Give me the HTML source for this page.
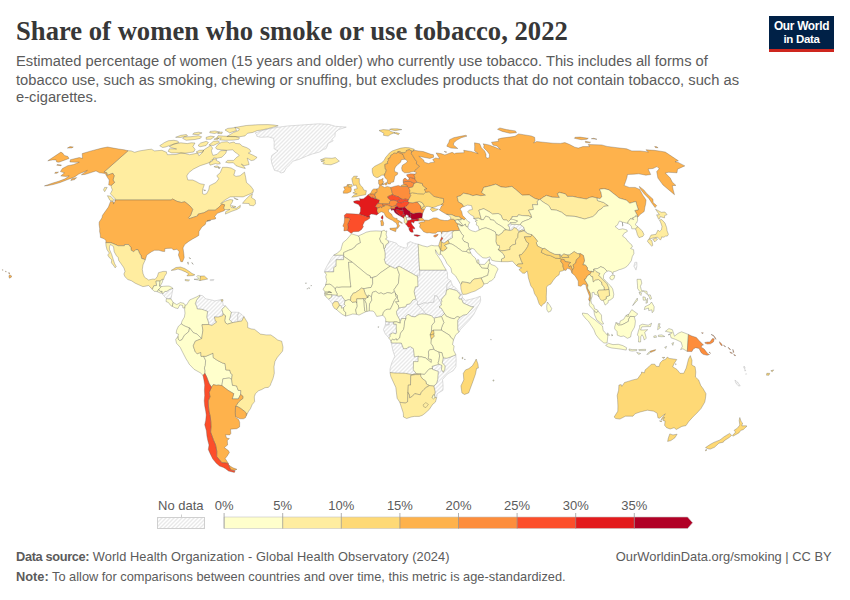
<!DOCTYPE html>
<html><head><meta charset="utf-8">
<style>
html,body{margin:0;padding:0;background:#fff;}
body{width:850px;height:600px;position:relative;overflow:hidden;font-family:"Liberation Sans",sans-serif;}
.t{position:absolute;white-space:nowrap;line-height:1;}
#title{left:16px;top:18.3px;font-family:"Liberation Serif",serif;font-weight:bold;font-size:26.65px;color:#373737;}
.sub{left:16px;font-size:14.72px;color:#5b5b5b;}
.ft{font-size:12.8px;color:#5b5b5b;}
.lg{font-size:13px;color:#5b5b5b;}
#logo{position:absolute;left:769px;top:16px;width:65px;height:33px;background:#002147;border-bottom:3px solid #ce261e;}
#logo span{position:absolute;left:0;width:65px;text-align:center;color:#fff;font-weight:bold;font-size:11.3px;line-height:1;letter-spacing:-0.3px;white-space:nowrap;}
</style></head><body>
<div class="t" id="title">Share of women who smoke or use tobacco, 2022</div>
<div class="t sub" id="s1" style="top:54.3px">Estimated percentage of women (15 years and older) who currently use tobacco. This includes all forms of</div>
<div class="t sub" id="s2" style="top:72.8px">tobacco use, such as smoking, chewing or snuffing, but excludes products that do not contain tobacco, such as</div>
<div class="t sub" id="s3" style="top:90.3px">e-cigarettes.</div>
<div id="logo"><span style="top:5.4px;font-size:11.9px" id="lg1">Our World</span><span style="top:17.6px;font-size:11.5px" id="lg2">in Data</span></div>

<svg id="map" width="850" height="600" style="position:absolute;left:0;top:0">
<defs>
<pattern id="hatch" width="4" height="4" patternUnits="userSpaceOnUse"><rect width="4" height="4" fill="#fff"/><path d="M-1 1l2 -2M0 4l4 -4M3 5l2 -2" stroke="#e9e9e9" stroke-width="1.35"/></pattern>
</defs>
<g id="legend">
<rect x="157.5" y="517.5" width="47" height="11" fill="url(#hatch)" stroke="#cfcfcf" stroke-width="1"/>
<line x1="181.5" y1="514.5" x2="181.5" y2="517.5" stroke="#cfcfcf"/>
<rect x="224.1" y="517" width="58.9" height="11.5" fill="#ffffcc"/>
<rect x="282.7" y="517" width="58.9" height="11.5" fill="#ffeda0"/>
<rect x="341.3" y="517" width="58.9" height="11.5" fill="#fed976"/>
<rect x="399.9" y="517" width="58.9" height="11.5" fill="#feb24c"/>
<rect x="458.5" y="517" width="58.9" height="11.5" fill="#fd8d3c"/>
<rect x="517.1" y="517" width="58.9" height="11.5" fill="#fc4e2a"/>
<rect x="575.7" y="517" width="58.9" height="11.5" fill="#e31a1c"/>
<path d="M634.3 517H687.6L692.6 522.75L687.6 528.5H634.3Z" fill="#b10026"/>
<path d="M224.1 517H687.6L692.6 522.75L687.6 528.5H224.1Z" fill="none" stroke="#c4c4c4" stroke-width="0.6"/>
<g stroke="#8f8f8f" stroke-width="0.7"><line x1="224.1" y1="513" x2="224.1" y2="528.5"/><line x1="282.7" y1="513" x2="282.7" y2="528.5"/><line x1="341.3" y1="513" x2="341.3" y2="528.5"/><line x1="399.9" y1="513" x2="399.9" y2="528.5"/><line x1="458.5" y1="513" x2="458.5" y2="528.5"/><line x1="517.1" y1="513" x2="517.1" y2="528.5"/><line x1="575.7" y1="513" x2="575.7" y2="528.5"/><line x1="634.3" y1="513" x2="634.3" y2="528.5"/></g>
</g>
<g id="countries" stroke="#4a4a4a" stroke-opacity="0.6" stroke-width="0.5" stroke-linejoin="round">
<path d="M173.0 288.4L172.0 293.6L171.0 298.9L168.4 298.9L166.4 298.6L162.2 293.9L163.1 293.6L164.7 291.5L166.8 291.3L169.9 289.2Z" fill="url(#hatch)" stroke="#bdbdbd" stroke-opacity="1"/>
<path d="M210.3 279.5L214.0 279.5L213.4 280.6L210.2 280.6Z" fill="url(#hatch)" stroke="#bdbdbd" stroke-opacity="1"/>
<path d="M199.7 295.2L202.6 295.7L205.9 298.9L211.5 299.9L214.9 300.9L220.7 299.6L222.9 302.8L223.2 305.4L225.5 305.9L221.9 309.3L223.2 314.0L222.5 315.8L218.3 317.1L214.4 316.9L215.4 321.1L216.8 321.9L211.9 325.5L208.7 324.5L208.5 322.4L206.7 317.1L207.6 311.4L201.9 309.3L197.3 309.0L196.7 306.7L195.3 303.6L196.6 300.2L197.8 298.3L199.6 296.8Z" fill="url(#hatch)" stroke="#bdbdbd" stroke-opacity="1"/>
<path d="M231.3 312.2L235.2 312.2L238.7 312.4L237.7 315.8L238.0 321.6L233.9 322.4L232.7 322.6L229.3 319.8L230.5 315.8Z" fill="url(#hatch)" stroke="#bdbdbd" stroke-opacity="1"/>
<path d="M238.7 312.4L242.1 314.8L243.9 316.6L241.7 321.1L238.0 321.6L237.7 315.8Z" fill="url(#hatch)" stroke="#bdbdbd" stroke-opacity="1"/>
<path d="M255.2 132.9L265.6 129.6L275.9 127.6L287.1 126.0L301.5 125.0L318.5 123.8L329.1 124.4L335.4 126.3L346.3 127.1L338.7 129.6L335.2 132.4L335.0 136.3L332.0 139.3L333.2 140.9L328.0 143.4L327.5 145.5L326.0 148.8L323.4 149.4L319.5 152.0L312.2 154.0L306.6 156.1L298.7 159.5L293.0 161.1L290.1 164.5L286.3 168.0L284.1 172.1L281.0 173.0L278.8 171.4L274.5 170.4L273.1 166.9L271.8 163.4L271.1 158.8L271.8 155.4L278.0 150.9L274.1 148.8L274.1 145.5L274.2 142.4L273.6 138.3L268.5 136.9L260.5 137.3L256.8 136.3L256.6 134.7Z" fill="url(#hatch)" stroke="#bdbdbd" stroke-opacity="1"/>
<path d="M405.6 215.6L406.6 214.6L407.9 215.3L408.8 216.1L408.5 217.2L406.9 217.7L406.2 217.4L405.3 216.4Z" fill="url(#hatch)" stroke="#bdbdbd" stroke-opacity="1"/>
<path d="M406.2 217.4L406.9 217.7L408.5 217.2L410.2 217.2L411.6 218.7L411.5 219.7L409.4 220.3L407.6 220.8L406.7 220.3Z" fill="url(#hatch)" stroke="#bdbdbd" stroke-opacity="1"/>
<path d="M509.3 230.4L509.5 227.8L507.8 224.9L509.5 224.2L511.2 224.2L515.6 224.4L520.4 224.7L523.6 227.0L524.6 229.9L521.5 230.1L518.6 231.4L516.7 228.6L513.9 227.5L512.7 229.6L510.8 230.4Z" fill="url(#hatch)" stroke="#bdbdbd" stroke-opacity="1"/>
<path d="M633.9 266.2L634.9 262.3L636.9 262.3L636.9 266.2L636.0 270.1Z" fill="url(#hatch)" stroke="#bdbdbd" stroke-opacity="1"/>
<path d="M441.6 233.8L442.4 231.4L446.9 231.7L451.5 230.7L454.5 230.7L452.2 232.2L452.5 237.7L448.1 240.3L444.0 243.2L441.5 242.1L441.5 240.3L443.0 238.2L441.6 237.2L441.1 235.1Z" fill="url(#hatch)" stroke="#bdbdbd" stroke-opacity="1"/>
<path d="M333.7 255.2L343.7 255.2L343.6 259.7L336.2 259.7L336.1 266.2L333.8 267.5L333.7 271.9L324.6 271.9L324.7 270.4L327.1 265.7L329.9 260.7L331.1 258.6Z" fill="url(#hatch)" stroke="#bdbdbd" stroke-opacity="1"/>
<path d="M388.3 240.8L391.6 241.6L396.5 243.2L398.0 245.5L402.9 247.4L406.3 248.2L407.5 246.1L407.1 243.2L410.3 241.6L414.1 243.2L418.1 244.2L418.5 249.2L418.4 251.3L419.6 270.1L419.8 275.3L417.5 275.3L417.6 276.6L399.1 266.2L396.9 267.5L395.1 268.5L390.1 266.2L385.6 263.6L384.2 259.1L385.0 258.4L385.1 253.1L384.1 248.7L385.2 247.9L385.8 244.8L388.4 242.9Z" fill="url(#hatch)" stroke="#bdbdbd" stroke-opacity="1"/>
<path d="M419.6 270.1L434.0 270.1L446.2 270.1L447.5 272.7L447.6 278.5L450.7 280.6L449.4 282.1L447.2 284.0L446.6 290.2L445.8 294.4L443.6 296.8L441.4 299.6L441.9 301.5L441.0 302.8L437.4 297.0L437.2 296.2L434.6 295.7L433.9 302.3L429.8 302.5L427.5 303.3L424.0 302.8L420.1 304.6L417.1 304.6L417.6 301.7L415.7 299.1L415.6 297.8L414.7 294.7L414.1 291.3L415.4 286.8L417.9 286.6L417.6 276.6L417.5 275.3L419.8 275.3Z" fill="url(#hatch)" stroke="#bdbdbd" stroke-opacity="1"/>
<path d="M417.1 304.6L420.1 304.6L424.0 302.8L427.5 303.3L429.8 302.5L433.9 302.3L434.6 295.7L437.2 296.2L437.4 297.0L441.0 302.8L441.5 305.1L439.0 307.0L441.4 308.3L444.5 313.5L441.5 316.6L434.6 317.9L434.1 318.5L431.6 315.8L426.3 314.3L424.2 311.9L421.3 308.5L418.8 305.9Z" fill="url(#hatch)" stroke="#bdbdbd" stroke-opacity="1"/>
<path d="M446.6 290.2L447.2 284.0L449.4 282.1L450.7 280.6L452.8 286.1L454.4 286.8L457.3 289.7L460.2 293.1L461.9 294.4L460.3 294.9L458.6 292.8L456.4 290.5L452.3 289.4L449.7 288.7Z" fill="url(#hatch)" stroke="#bdbdbd" stroke-opacity="1"/>
<path d="M460.3 294.9L461.9 294.4L462.5 297.5L461.6 299.1L459.1 299.1L458.8 297.3Z" fill="url(#hatch)" stroke="#bdbdbd" stroke-opacity="1"/>
<path d="M461.6 299.1L462.5 297.5L465.5 300.4L470.1 299.4L475.3 298.1L480.3 296.2L480.7 300.2L479.9 303.0L477.7 306.7L473.7 314.5L469.2 320.3L464.7 325.0L460.0 330.0L459.1 332.0L457.7 330.0L457.7 320.3L459.7 317.4L463.4 315.1L466.8 314.5L473.6 306.7L471.3 306.7L463.1 303.0Z" fill="url(#hatch)" stroke="#bdbdbd" stroke-opacity="1"/>
<path d="M328.7 299.1L331.7 297.0L331.7 294.7L337.0 295.2L337.0 295.7L338.6 296.2L341.5 295.5L343.1 298.1L344.0 298.9L345.0 300.9L344.2 304.1L345.4 305.6L343.5 307.7L341.5 308.3L341.2 305.6L339.4 305.4L338.7 303.3L337.4 301.5L334.4 301.7L332.5 304.1Z" fill="url(#hatch)" stroke="#bdbdbd" stroke-opacity="1"/>
<path d="M398.8 308.0L401.5 307.5L405.9 306.7L406.6 304.6L410.0 303.8L412.9 299.9L415.7 299.1L417.6 301.7L417.1 304.6L418.8 305.9L421.3 308.5L424.2 311.9L426.3 314.3L421.9 314.0L419.3 314.3L417.0 315.6L415.0 316.9L411.5 316.4L408.0 314.3L406.0 316.4L406.0 318.5L401.6 318.5L400.3 321.6L400.3 323.2L399.5 319.5L396.8 314.5L396.5 311.4Z" fill="url(#hatch)" stroke="#bdbdbd" stroke-opacity="1"/>
<path d="M385.7 321.6L389.2 321.9L389.2 325.0L385.3 325.0Z" fill="url(#hatch)" stroke="#bdbdbd" stroke-opacity="1"/>
<path d="M385.3 325.0L389.2 325.0L389.2 321.9L393.8 321.9L393.6 324.2L396.3 324.2L396.3 328.9L396.6 332.6L395.9 333.9L392.6 332.8L391.9 333.6L389.9 334.4L390.3 336.5L388.7 337.8L385.3 333.9L383.4 329.7L384.6 326.8Z" fill="url(#hatch)" stroke="#bdbdbd" stroke-opacity="1"/>
<path d="M391.2 342.8L393.5 343.0L401.3 343.0L403.6 348.8L406.8 348.5L408.0 347.2L410.3 346.7L413.3 348.5L414.1 353.7L414.3 356.9L417.7 356.3L418.2 356.1L418.1 361.6L413.5 361.6L413.3 369.9L416.4 373.6L411.8 374.6L405.2 373.3L395.0 373.1L390.0 372.5L390.0 368.9L391.7 362.9L394.8 356.3L393.0 351.1L391.4 343.5ZM390.8 340.7L391.2 340.7L392.6 339.1L391.2 342.5Z" fill="url(#hatch)" stroke="#bdbdbd" stroke-opacity="1"/>
<path d="M455.9 354.8L456.2 360.3L455.9 366.8L453.2 370.7L447.3 374.1L442.5 379.6L443.1 385.1L443.0 390.3L437.2 393.7L436.7 397.6L434.9 397.6L434.6 395.3L435.1 391.6L433.8 386.1L436.6 383.3L437.7 379.6L437.9 375.9L438.3 371.5L436.1 370.7L432.5 369.4L432.5 368.4L432.1 366.3L439.1 364.2L442.0 365.5L441.4 369.4L443.3 372.3L444.8 369.4L445.0 365.8L442.3 362.9L443.2 357.9L446.8 358.2L450.3 357.1Z" fill="url(#hatch)" stroke="#bdbdbd" stroke-opacity="1"/>
<path d="M744.0 366.0L745.0 367.6L744.8 368.9L743.8 368.1ZM744.9 369.4L745.7 370.7L744.8 371.0ZM746.0 373.6L746.5 374.1L745.8 374.4Z" fill="url(#hatch)" stroke="#bdbdbd" stroke-opacity="1"/>
<path d="M734.9 380.1L737.7 382.2L740.2 385.9L738.6 385.9L735.9 383.3Z" fill="url(#hatch)" stroke="#bdbdbd" stroke-opacity="1"/>
<path d="M128.1 150.7L131.2 150.9L134.6 152.3L139.5 150.9L147.7 149.6L151.5 149.2L154.5 150.9L161.9 150.3L166.5 152.3L167.4 154.7L176.1 154.5L181.0 152.9L185.4 153.6L189.6 154.7L197.7 153.1L198.9 155.8L201.9 153.1L203.9 149.8L210.5 145.5L212.6 148.1L211.4 150.7L212.0 152.9L212.9 155.4L217.1 154.3L220.6 150.7L226.6 150.5L225.9 153.1L221.9 157.2L216.8 158.3L213.7 157.9L212.3 161.1L207.2 163.4L200.2 165.7L193.2 169.2L188.7 172.8L186.8 175.9L187.8 180.0L192.6 180.0L195.6 181.3L200.0 183.7L204.4 184.5L202.5 189.9L202.6 193.7L204.2 194.4L206.6 193.7L208.7 189.9L209.5 185.7L215.9 182.5L218.8 178.8L216.8 175.7L220.2 172.8L222.5 167.3L227.0 167.3L231.1 168.0L235.3 170.4L233.8 175.2L236.0 176.4L240.1 175.7L244.5 172.1L245.7 177.6L246.5 182.5L250.8 186.2L253.4 189.9L253.1 192.4L250.1 193.9L243.1 196.9L235.2 196.7L230.1 196.9L224.9 200.0L220.5 203.8L225.6 201.0L230.1 199.5L233.0 200.0L232.1 202.5L230.3 205.1L231.5 207.6L236.5 208.1L240.4 205.3L240.1 207.6L237.1 209.4L231.3 211.5L225.4 214.1L225.7 211.7L229.9 209.4L224.7 209.7L223.5 208.1L224.6 204.8L222.0 204.1L218.5 207.6L215.2 210.2L208.6 210.2L203.9 212.8L198.2 214.1L197.6 215.9L189.2 218.7L188.4 217.9L190.6 215.3L192.7 209.4L191.4 207.6L189.6 205.6L184.8 201.8L181.4 202.5L176.9 201.3L172.6 199.0L171.1 200.0L114.6 200.0L115.5 199.2L113.2 196.7L110.4 193.7L112.4 189.9L111.1 186.7L111.2 185.4L114.6 182.5L113.0 180.0L114.2 175.7L112.8 173.3L107.0 175.4L106.9 172.8L103.9 172.1L128.1 150.7ZM113.0 201.5L109.8 200.2L107.4 195.7L110.6 196.2L113.5 199.2ZM242.5 203.3L245.1 200.0L249.5 195.7L252.5 193.7L251.5 197.5L255.2 200.0L255.5 203.8L253.6 205.8L249.6 205.3L249.1 203.5ZM245.3 168.5L240.5 167.3L236.0 165.7L233.3 162.7L228.7 162.9L225.6 162.2L227.6 160.4L233.7 160.4L236.3 157.6L239.3 155.4L237.1 153.6L234.7 152.0L232.9 149.8L226.8 150.3L221.3 149.8L216.8 149.2L215.6 147.7L217.9 144.5L221.6 142.2L227.2 141.7L229.3 143.0L234.1 142.0L235.3 143.4L239.8 143.8L242.2 146.0L246.8 147.7L249.7 149.4L250.9 151.6L248.3 153.1L253.1 155.2L257.1 157.4L254.0 160.1L251.1 160.6L247.2 158.1L248.5 162.2L249.1 164.5L244.1 165.7L241.3 164.1L244.4 166.9ZM193.6 152.0L185.8 153.1L177.6 152.9L171.7 152.9L168.2 151.4L169.4 148.8L176.6 149.0L171.4 147.7L169.3 146.6L173.9 144.0L180.9 142.8L187.2 143.6L191.3 142.8L195.0 143.0L192.9 146.6L195.1 149.4ZM162.6 147.5L159.7 145.7L164.7 142.4L168.5 140.7L173.7 140.3L177.6 140.9L179.0 142.4L174.9 143.8L169.7 145.5L165.6 147.0ZM182.6 138.3L186.2 140.3L195.0 139.5L200.4 138.3L201.6 136.7L198.3 135.7L190.9 136.7L184.5 136.9ZM198.0 145.5L200.0 146.8L206.1 145.5L208.4 142.4L206.3 141.3L200.6 143.0ZM208.9 145.1L213.4 145.5L219.5 142.4L218.5 140.9L213.4 141.3ZM196.1 152.0L198.5 153.1L202.8 152.0L203.7 150.1L199.3 150.3ZM219.5 139.9L225.4 140.3L233.4 140.1L238.8 139.3L239.5 137.7L235.3 136.5L227.9 136.3L223.6 136.1L218.0 135.7L216.6 138.3L221.4 138.1ZM226.9 136.5L233.6 136.7L239.7 136.7L245.0 135.9L247.5 133.3L252.8 132.4L257.5 130.5L260.8 130.2L268.0 128.6L273.6 127.1L278.2 125.8L274.1 125.0L267.8 124.6L258.0 124.7L246.2 125.5L237.2 127.1L234.7 127.4L239.3 128.8L238.7 130.5L233.7 132.4L231.5 133.7ZM229.4 132.9L236.6 130.5L235.2 127.6L227.7 128.4L225.0 130.0L228.3 132.0ZM206.2 139.3L210.8 139.3L214.5 136.7L210.7 136.1L206.2 137.3ZM213.9 139.3L217.4 139.7L218.9 138.3L216.0 138.1ZM175.6 137.3L180.6 137.5L187.5 135.9L186.4 134.5L180.8 135.3ZM209.7 132.7L214.6 133.5L219.5 132.0L215.1 130.9L210.0 131.4ZM217.6 133.5L221.8 133.7L222.4 132.0L219.3 132.2ZM192.7 134.3L198.2 134.7L202.1 132.9L198.7 132.2L193.9 132.9ZM209.3 163.4L210.2 165.2L215.5 163.6L217.3 164.1L220.3 163.8L219.6 162.0L216.3 160.4L216.5 158.8L213.6 159.2L210.9 160.6ZM213.9 166.6L216.0 167.6L219.0 167.1L217.1 165.9ZM218.2 167.6L219.1 169.0L220.3 167.1ZM233.8 197.7L238.2 199.5L236.2 199.5ZM231.5 205.6L235.9 206.6L233.6 207.6ZM203.6 189.7L205.7 190.4L204.1 190.7ZM104.6 187.4L107.2 187.4L104.7 191.7L103.5 189.9Z" fill="#ffeda0"/>
<path d="M114.6 200.0L171.1 200.0L172.6 199.0L176.9 201.3L181.4 202.5L184.8 201.8L189.6 205.6L191.4 207.6L192.7 209.4L190.6 215.3L188.4 217.9L189.2 218.7L197.6 215.9L198.2 214.1L203.9 212.8L208.6 210.2L215.2 210.2L218.5 207.6L222.0 204.1L224.6 204.8L223.5 208.1L224.7 209.7L224.3 210.7L217.3 213.3L214.7 216.6L215.8 217.9L215.4 219.0L212.1 219.5L207.0 220.8L210.7 220.5L206.2 221.6L205.3 224.4L201.9 227.0L199.7 230.4L199.0 231.4L198.8 235.4L196.4 236.9L192.6 239.0L188.7 241.4L184.7 244.5L183.0 247.9L183.8 253.6L184.2 257.6L182.6 261.7L180.8 261.7L179.9 259.1L178.4 255.0L179.3 251.8L177.0 249.2L173.5 250.0L171.7 248.2L167.2 248.4L164.9 248.7L164.7 251.6L162.1 251.3L159.0 250.3L154.5 250.3L151.5 251.8L146.8 255.0L145.3 259.7L141.5 258.4L141.0 255.7L139.4 253.1L138.0 249.7L135.8 249.7L133.7 251.8L131.2 250.3L130.9 247.4L128.5 244.5L124.8 244.5L124.4 245.8L118.2 245.8L110.9 242.7L105.8 242.7L106.0 240.8L104.2 238.8L100.4 237.4L100.3 234.8L99.6 231.4L99.7 228.8L99.1 224.4L99.2 222.1L101.9 217.9L102.5 215.3L108.4 207.1L110.5 201.5L113.7 202.0L113.4 204.1L115.5 200.5ZM128.1 150.7L103.9 172.1L106.9 172.8L107.0 175.4L112.8 173.3L114.2 175.7L113.0 180.0L114.6 182.5L111.2 185.4L108.7 185.0L109.2 180.0L107.2 177.1L105.2 173.5L99.5 172.8L96.0 170.9L90.3 172.8L84.8 174.5L81.4 174.7L87.4 170.4L78.8 174.0L74.7 176.9L66.6 180.0L60.2 182.5L53.3 184.5L47.2 185.7L44.4 185.9L52.9 183.0L58.6 181.3L65.1 178.8L69.2 175.9L65.9 176.4L60.8 175.9L64.5 172.8L60.4 171.6L62.4 168.5L67.7 165.7L73.7 164.5L79.3 162.2L75.8 162.2L69.9 162.0L70.4 159.7L79.2 157.6L82.6 158.3L82.4 156.5L82.2 153.6L91.1 150.9L101.9 148.1L107.6 147.0L113.4 148.1L118.8 149.0L124.2 149.8ZM71.7 178.8L76.7 177.6L74.7 179.6L70.8 180.5ZM57.3 164.5L61.5 165.0L60.9 165.7L56.7 165.2ZM55.3 172.3L58.5 172.1L56.9 173.3L54.7 173.3ZM9.5 274.8L11.6 275.9L11.3 277.2L9.4 278.2L8.9 276.4ZM8.4 272.7L10.0 273.0L9.1 273.8ZM5.4 271.2L6.4 271.7L5.7 271.9ZM2.4 269.6L3.2 269.9L2.7 270.4Z" fill="#feb24c"/>
<path d="M105.8 242.7L110.9 242.7L118.2 245.8L124.4 245.8L124.8 244.5L128.5 244.5L130.9 247.4L131.2 250.3L133.7 251.8L135.8 249.7L138.0 249.7L139.4 253.1L141.0 255.7L141.5 258.4L145.3 259.7L143.0 264.9L142.3 269.3L143.0 273.5L144.5 277.2L147.2 279.0L148.6 280.0L152.9 279.0L155.1 279.3L157.3 276.6L158.5 272.7L163.0 271.4L166.4 271.4L166.6 273.2L164.5 276.6L163.4 280.0L162.4 279.3L160.1 281.1L156.0 281.1L156.6 285.5L153.8 285.8L152.3 289.4L148.6 285.5L145.1 286.3L142.8 286.6L138.5 284.7L135.2 283.2L131.5 280.8L127.8 279.5L124.8 276.6L123.9 274.0L125.0 271.4L124.0 268.0L121.3 264.1L118.7 260.4L118.2 257.6L116.4 255.7L114.2 251.8L113.5 246.6L110.5 244.5L109.5 246.6L109.4 249.2L111.7 254.4L113.3 259.7L114.6 263.6L116.3 266.7L115.0 267.8L114.1 266.2L111.4 262.8L111.7 259.7L109.3 257.6L107.7 255.0L109.3 253.1L107.0 249.7L106.0 245.8Z" fill="#ffeda0"/>
<path d="M152.3 289.4L153.8 285.8L156.6 285.5L156.0 281.1L160.1 281.1L159.5 286.1L161.5 286.6L159.2 288.9L158.6 290.0L156.9 291.5L154.2 291.3Z" fill="#ffffcc"/>
<path d="M160.1 281.1L162.4 279.3L162.5 281.9L160.2 286.1L159.5 286.1Z" fill="#ffffcc"/>
<path d="M156.9 291.5L158.6 290.0L160.6 291.3L162.2 291.3L162.0 293.1L160.4 293.1Z" fill="#ffffcc"/>
<path d="M158.6 290.0L159.2 288.9L161.5 286.6L163.4 286.3L166.8 286.1L169.1 286.1L171.3 287.1L173.0 288.4L169.9 289.2L166.8 291.3L164.7 291.5L163.1 293.6L162.0 293.1L162.2 291.3L160.6 291.3Z" fill="#ffffcc"/>
<path d="M166.4 298.6L168.4 298.9L171.0 298.9L173.2 302.5L172.3 306.4L170.6 305.4L168.4 302.5L166.0 301.5Z" fill="#ffffcc"/>
<path d="M172.3 306.4L173.2 302.5L176.8 304.6L180.4 302.5L183.8 303.3L185.3 305.1L184.7 308.0L182.9 308.0L182.5 305.4L179.8 304.9L178.0 308.5L175.5 308.0Z" fill="#ffffcc"/>
<path d="M171.2 270.4L175.9 267.5L180.5 267.0L184.8 268.5L189.0 271.2L192.1 273.5L194.9 274.8L193.0 275.6L186.9 275.9L188.7 273.8L185.5 271.9L181.2 270.1L178.0 269.1L174.4 270.1Z" fill="#fed976"/>
<path d="M185.1 279.5L189.6 280.0L188.3 281.1L185.2 280.6Z" fill="#ffeda0"/>
<path d="M194.0 279.3L198.2 280.0L200.0 280.6L200.5 276.1L197.6 275.6L196.8 276.4L198.4 278.0L198.3 279.0Z" fill="#ffffcc"/>
<path d="M200.5 276.1L204.3 275.9L207.7 279.0L203.9 279.8L200.0 280.6Z" fill="#fed976"/>
<path d="M187.5 262.3L188.3 264.4L188.2 262.0ZM189.1 257.6L190.7 258.6L189.7 258.4ZM191.7 262.8L193.2 264.4L191.9 262.5Z" fill="#ffeda0"/>
<path d="M221.2 299.6L223.0 299.6L223.0 301.2L221.1 301.2Z" fill="#ffeda0"/>
<path d="M185.3 305.1L186.4 305.1L189.7 299.9L192.1 298.9L196.8 296.8L199.7 295.2L199.6 296.8L197.8 298.3L196.6 300.2L195.3 303.6L196.7 306.7L197.3 309.0L201.9 309.3L207.6 311.4L206.7 317.1L208.5 322.4L208.7 324.5L202.0 324.7L202.9 330.2L201.7 338.6L197.0 334.1L193.5 332.8L189.5 327.9L186.5 326.8L184.2 325.8L181.2 323.9L182.0 321.1L184.4 317.1L185.0 313.2L184.6 309.3Z" fill="#ffffcc"/>
<path d="M225.5 305.9L228.4 309.3L231.3 312.2L230.5 315.8L229.3 319.8L232.7 322.6L227.4 324.2L225.3 322.6L224.7 320.5L225.5 315.8L223.2 314.0L221.9 309.3Z" fill="#ffffcc"/>
<path d="M181.2 323.9L184.2 325.8L186.5 326.8L189.5 327.9L188.9 331.5L184.3 335.4L182.1 339.6L179.8 340.7L178.0 339.1L177.9 336.5L178.5 334.1L176.2 333.3L176.6 330.2L178.4 326.3Z" fill="#ffffcc"/>
<path d="M177.9 336.5L178.0 339.1L179.8 340.7L182.1 339.6L184.3 335.4L188.9 331.5L189.5 327.9L193.5 332.8L197.0 334.1L201.7 338.6L195.3 341.2L193.2 345.9L195.3 351.9L197.2 353.7L200.8 352.4L201.0 356.3L203.6 356.3L205.6 360.3L205.3 365.5L204.4 368.1L205.1 370.7L204.9 373.3L203.0 375.4L200.3 372.8L194.2 369.4L189.2 364.2L187.8 361.6L186.1 359.0L182.7 352.4L180.1 347.2L176.5 343.3L175.7 339.4Z" fill="#ffffcc"/>
<path d="M203.6 356.3L205.9 356.3L213.0 353.2L213.3 357.7L217.6 360.5L222.3 362.9L225.1 363.7L225.8 369.9L229.9 370.2L230.6 373.3L232.3 374.6L231.6 379.3L229.2 378.0L222.9 378.8L221.9 385.6L218.5 385.1L216.3 385.3L213.3 384.6L211.5 387.2L209.3 383.8L207.8 379.9L206.8 377.2L204.9 373.3L205.1 370.7L204.4 368.1L205.3 365.5L205.6 360.3Z" fill="#ffffcc"/>
<path d="M221.9 385.6L222.9 378.8L229.2 378.0L231.6 379.3L232.5 385.3L236.6 385.9L238.2 390.3L240.9 390.6L240.6 394.5L238.3 398.9L232.2 398.9L233.8 393.7L228.0 390.3Z" fill="#ffffcc"/>
<path d="M243.9 316.6L247.7 322.9L247.7 327.6L251.1 328.9L254.6 329.4L260.4 334.1L266.2 334.9L270.8 334.9L274.3 337.3L277.8 340.1L281.7 341.2L283.0 347.2L282.6 351.1L279.3 355.0L277.1 357.7L274.9 361.6L274.0 366.8L274.3 373.3L273.0 378.6L270.8 383.8L270.5 385.1L268.4 387.4L265.0 387.7L261.8 389.5L258.5 390.8L255.4 393.7L254.3 396.8L254.6 401.6L252.1 404.7L250.5 408.6L248.3 411.7L246.3 415.7L246.3 413.1L244.2 411.0L240.2 408.1L237.3 406.5L235.5 406.5L238.8 401.6L242.9 398.4L242.8 396.1L240.6 394.5L240.9 390.6L238.2 390.3L236.6 385.9L232.5 385.3L231.6 379.3L232.3 374.6L230.6 373.3L229.9 370.2L225.8 369.9L225.1 363.7L222.3 362.9L217.6 360.5L213.3 357.7L213.0 353.2L205.9 356.3L203.6 356.3L201.0 356.3L200.8 352.4L197.2 353.7L195.3 351.9L193.2 345.9L195.3 341.2L201.7 338.6L202.9 330.2L202.0 324.7L208.7 324.5L211.9 325.5L216.8 321.9L215.4 321.1L214.4 316.9L218.3 317.1L222.5 315.8L223.2 314.0L225.5 315.8L224.7 320.5L225.3 322.6L227.4 324.2L232.7 322.6L233.9 322.4L238.0 321.6L241.7 321.1Z" fill="#ffeda0"/>
<path d="M235.5 406.5L237.3 406.5L240.2 408.1L244.2 411.0L246.3 413.1L246.3 415.7L245.4 417.8L243.4 418.8L240.1 418.8L236.5 417.2L235.5 416.2L235.2 412.5Z" fill="#feb24c"/>
<path d="M221.9 385.6L228.0 390.3L233.8 393.7L232.2 398.9L238.3 398.9L240.6 394.5L242.8 396.1L242.9 398.4L238.8 401.6L235.5 406.5L235.2 412.5L235.5 416.2L235.7 417.2L238.8 419.8L239.7 422.5L239.6 426.9L236.8 428.7L230.5 429.2L230.9 433.4L229.8 434.9L225.5 434.7L226.5 438.0L229.4 438.6L227.3 440.6L227.6 445.0L224.3 447.6L228.4 450.6L229.4 452.4L227.2 456.0L225.2 458.5L228.4 463.5L224.9 462.8L221.9 462.8L219.2 459.5L216.7 456.5L216.8 451.4L215.6 445.0L213.4 439.9L210.6 432.1L211.0 426.9L210.8 421.7L210.2 416.4L209.0 411.2L208.4 406.0L208.2 400.8L210.0 396.8L209.2 392.4L211.5 387.2L213.3 384.6L216.3 385.3L218.5 385.1ZM228.3 464.3L230.8 470.0L234.9 470.2L237.0 469.3L232.9 467.8L229.7 465.8Z" fill="#feb24c"/>
<path d="M203.0 375.4L203.9 379.9L204.7 385.1L204.4 390.3L204.7 395.5L204.2 400.8L204.7 406.0L205.7 411.2L206.2 415.1L205.7 420.4L204.7 424.8L206.4 430.8L206.9 436.0L207.8 440.6L209.0 445.0L208.3 449.4L210.3 453.9L212.8 459.0L216.3 463.3L219.5 466.0L223.5 467.5L225.6 468.8L228.5 471.0L234.4 472.5L235.1 470.7L230.8 470.0L228.3 464.3L228.4 463.5L224.9 462.8L221.9 462.8L219.2 459.5L216.7 456.5L216.8 451.4L215.6 445.0L213.4 439.9L210.6 432.1L211.0 426.9L210.8 421.7L210.2 416.4L209.0 411.2L208.4 406.0L208.2 400.8L210.0 396.8L209.2 392.4L211.5 387.2L209.3 383.8L207.8 379.9L206.8 377.2L204.9 373.3Z" fill="#fc4e2a"/>
<path d="M320.4 159.9L325.1 157.9L331.9 158.3L335.5 157.6L337.8 159.9L339.4 161.1L336.6 162.7L331.0 164.8L326.6 164.5L322.8 163.8L324.3 162.2L321.0 161.3L324.7 160.1Z" fill="#ffeda0"/>
<path d="M383.9 175.0L381.7 175.2L378.1 177.4L376.2 177.6L373.5 175.7L372.3 172.3L372.2 168.5L374.8 166.2L378.2 164.5L381.6 162.7L384.1 160.4L385.5 157.6L387.8 154.9L389.3 153.1L392.3 150.9L396.2 149.6L400.9 148.1L405.3 147.5L409.0 147.7L414.3 149.2L413.0 150.5L414.3 150.3L411.6 151.9L412.1 151.4L409.3 149.7L406.4 150.5L406.1 151.6L404.9 152.9L401.8 152.7L399.1 151.4L397.7 151.9L396.9 153.4L393.8 153.1L392.8 154.3L390.8 155.4L389.9 158.1L388.2 158.5L388.4 160.4L387.2 162.0L387.9 163.4L384.8 164.5L385.3 169.2L386.4 169.7L385.7 172.3L384.9 173.5L384.5 175.2L383.9 175.0ZM379.0 130.5L383.9 133.3L383.4 135.3L388.1 136.1L390.7 134.3L394.8 132.7L390.8 131.4L389.0 130.0L383.2 129.6ZM389.5 129.3L395.0 130.7L401.8 129.6L397.2 128.8L391.5 128.8ZM394.1 132.9L398.3 134.7L399.5 133.5L396.2 132.6Z" fill="#fed976"/>
<path d="M383.9 175.0L384.5 175.2L384.9 173.5L385.7 172.3L386.4 169.7L385.3 169.2L384.8 164.5L387.9 163.4L387.2 162.0L388.4 160.4L388.2 158.5L389.9 158.1L390.8 155.4L392.8 154.3L393.8 153.1L396.9 153.4L397.7 151.9L399.3 152.7L403.0 154.3L403.8 156.7L405.0 159.2L401.4 159.7L400.6 162.2L397.8 164.5L395.5 166.9L394.5 169.2L394.6 171.4L397.8 172.8L397.4 174.5L394.8 176.2L394.4 178.8L393.6 182.0L390.8 182.5L390.4 184.0L388.1 184.0L387.1 182.0L387.5 180.0L385.3 178.1Z" fill="#feb24c"/>
<path d="M405.0 159.2L407.5 161.1L406.4 162.7L402.4 165.2L401.6 168.0L402.2 170.9L404.6 172.8L408.3 172.8L411.8 171.8L414.1 171.6L415.9 169.9L419.6 166.2L416.4 163.8L416.7 161.5L414.6 158.8L412.6 155.4L411.4 153.8L411.6 151.9L412.1 151.4L409.3 149.7L406.4 150.5L406.1 151.6L404.9 152.9L401.8 152.7L399.1 151.4L397.7 151.9L399.3 152.7L403.0 154.3L403.8 156.7L405.0 159.2Z" fill="#feb24c"/>
<path d="M378.6 183.7L378.6 180.0L381.1 179.6L383.1 178.3L382.7 181.3L383.9 181.8L382.1 184.2L381.4 185.2L379.7 185.2ZM384.6 183.2L387.0 182.5L387.1 184.2L386.2 185.2L384.7 184.5ZM381.9 183.7L383.8 183.7L383.7 184.7L382.4 184.7Z" fill="#feb24c"/>
<path d="M351.7 197.2L356.1 196.7L360.1 195.7L365.7 194.7L366.4 190.7L363.7 189.9L362.7 187.4L360.2 185.0L359.3 182.5L359.3 178.6L355.6 178.3L357.5 176.2L353.8 176.2L351.8 178.8L352.6 182.5L353.4 185.4L356.3 185.2L357.2 188.7L354.3 189.2L354.3 190.4L355.2 191.7L352.8 192.9L357.2 193.9L354.1 194.9ZM347.6 186.2L349.1 184.5L351.6 184.5L352.5 186.2L350.9 187.2L348.5 186.9Z" fill="#fed976"/>
<path d="M350.9 187.2L351.4 189.2L350.9 191.7L347.3 193.2L343.3 193.2L343.4 191.2L344.9 189.4L343.7 186.9L346.6 186.4L347.3 184.5L349.1 184.5L347.6 186.2L348.5 186.9Z" fill="#feb24c"/>
<path d="M359.3 214.3L360.4 211.5L360.6 207.6L358.6 204.6L354.0 202.8L353.6 201.3L357.0 200.5L359.9 200.7L359.7 198.2L360.7 199.0L363.5 198.7L366.3 196.4L368.1 194.7L371.5 197.5L372.7 197.2L374.8 198.7L376.0 198.7L379.6 200.0L378.6 203.5L377.4 203.8L375.4 206.6L377.1 207.6L377.5 208.9L377.0 210.2L377.6 212.3L378.7 213.3L376.7 215.1L373.5 214.3L371.2 214.1L369.4 215.3L369.8 216.9L366.9 216.9L364.6 215.9ZM381.2 216.9L382.8 215.3L383.1 217.9L382.5 219.5L381.2 218.2Z" fill="#e31a1c"/>
<path d="M359.3 214.3L364.6 215.9L366.9 216.9L369.8 216.9L369.8 218.2L367.7 219.7L364.8 221.3L363.1 224.4L362.7 226.2L363.5 226.5L361.6 229.4L358.8 231.4L353.4 231.7L351.0 233.5L349.5 232.0L347.1 230.4L348.1 227.8L347.5 224.4L348.4 222.6L350.0 219.0L349.2 218.2L345.8 217.7L344.6 218.2L344.3 215.3L346.4 213.5L351.6 213.8L355.8 214.1Z" fill="#fc4e2a"/>
<path d="M344.6 218.2L345.8 217.7L349.2 218.2L350.0 219.0L348.4 222.6L347.5 224.4L348.1 227.8L347.1 230.4L343.9 230.9L344.2 227.0L342.8 226.2L344.2 222.6Z" fill="#fd8d3c"/>
<path d="M368.1 194.7L369.8 193.9L371.6 193.9L373.0 193.7L374.8 194.7L374.5 195.4L375.5 195.9L375.3 197.2L374.8 198.7L372.7 197.2L371.5 197.5Z" fill="#fd8d3c"/>
<path d="M374.8 198.7L375.3 197.2L376.1 198.0L376.0 198.7Z" fill="#fd8d3c"/>
<path d="M369.8 193.9L371.0 192.4L372.3 189.9L373.8 188.9L376.8 188.9L377.3 191.2L376.5 192.7L375.0 192.9L375.2 194.4L374.8 194.7L373.0 193.7L371.6 193.9Z" fill="#feb24c"/>
<path d="M376.8 188.9L378.7 188.2L379.7 185.2L381.4 185.2L382.5 186.2L384.5 187.4L387.3 186.4L390.7 187.4L391.3 189.4L392.1 192.4L392.9 194.9L391.5 194.9L387.7 196.7L388.2 198.2L391.0 200.5L389.4 201.8L389.6 203.8L384.5 203.8L382.7 203.8L378.6 203.5L379.6 200.0L376.0 198.7L376.1 198.0L375.3 197.2L375.5 195.9L374.5 195.4L374.8 194.7L375.2 194.4L375.0 192.9L376.5 192.7L377.3 191.2Z" fill="#feb24c"/>
<path d="M375.4 206.6L377.4 203.8L378.6 203.5L382.7 203.8L382.5 205.1L384.4 205.3L384.4 206.4L382.2 206.6L381.6 208.1L380.3 206.6L379.4 207.9L377.5 207.9L377.1 207.6Z" fill="#fd8d3c"/>
<path d="M382.7 203.8L384.5 203.8L389.6 203.8L389.4 201.8L391.0 200.5L393.4 200.0L397.3 201.0L397.8 202.5L396.7 203.8L396.0 205.3L395.0 205.8L392.8 206.6L391.2 206.4L388.5 205.8L387.8 205.1L384.4 205.3L382.5 205.1Z" fill="#fd8d3c"/>
<path d="M378.7 213.3L377.6 212.3L377.0 210.2L377.5 208.9L377.1 207.6L377.5 207.9L379.4 207.9L380.3 206.6L381.6 208.1L382.2 206.6L384.4 206.4L384.4 205.3L387.8 205.1L388.5 205.8L391.2 206.4L391.1 208.1L391.3 208.7L388.5 209.4L388.7 212.0L391.5 214.1L392.9 216.9L395.1 218.2L397.2 218.5L396.9 219.5L399.5 221.0L402.4 222.9L402.1 223.6L399.2 221.8L398.3 223.9L399.7 225.7L398.5 227.3L397.5 228.6L396.8 227.8L397.3 225.7L396.3 223.1L393.9 221.6L392.7 220.5L389.0 218.7L386.2 216.9L385.1 215.3L384.1 212.8L381.2 211.7ZM389.9 228.3L396.6 227.8L395.7 231.7L390.0 229.4ZM380.5 220.8L382.5 220.0L383.7 223.1L383.4 225.5L381.1 225.7L380.9 222.3Z" fill="#feb24c"/>
<path d="M390.7 187.4L395.0 186.2L398.4 185.4L400.9 186.4L407.3 186.4L408.8 187.7L410.0 190.7L409.7 192.2L409.8 193.4L410.9 195.4L408.7 199.7L405.3 199.0L403.0 199.5L400.9 198.7L398.5 196.7L396.9 196.4L395.0 195.9L392.9 194.9L392.1 192.4L391.3 189.4Z" fill="#fd8d3c"/>
<path d="M387.7 196.7L391.5 194.9L392.9 194.9L395.0 195.9L396.9 196.4L398.5 196.7L400.9 198.7L399.6 199.7L397.3 201.0L393.4 200.0L391.0 200.5L388.2 198.2Z" fill="#fc4e2a"/>
<path d="M397.3 201.0L399.6 199.7L400.9 198.7L403.0 199.5L405.3 199.0L408.7 199.7L407.9 201.5L404.6 201.3L401.3 203.0L397.8 202.5Z" fill="#fc4e2a"/>
<path d="M396.0 205.3L396.7 203.8L397.8 202.5L401.3 203.0L404.6 201.3L407.9 201.5L409.6 202.5L407.1 205.8L404.8 207.1L402.0 207.9L399.5 207.9L396.9 206.4Z" fill="#fc4e2a"/>
<path d="M391.2 206.4L392.8 206.6L395.0 205.8L396.0 205.3L396.9 206.4L395.3 207.1L394.7 208.9L391.3 208.7L391.1 208.1Z" fill="#fd8d3c"/>
<path d="M390.9 208.9L391.3 208.7L394.7 208.9L395.3 207.1L396.9 206.4L399.5 207.9L402.0 207.9L402.6 210.2L402.2 210.5L398.2 209.7L396.2 209.7L395.8 210.7L396.8 212.3L399.2 214.3L399.9 215.3L401.9 216.4L402.0 216.9L398.7 215.3L396.3 213.8L394.7 212.3L393.9 210.2L392.6 209.4L391.9 210.7Z" fill="#b10026"/>
<path d="M395.8 210.7L396.2 209.7L398.2 209.7L402.2 210.5L403.3 210.5L403.0 212.0L403.9 213.3L403.2 214.1L402.2 214.8L401.9 216.4L399.9 215.3L399.2 214.3L396.8 212.3Z" fill="#e31a1c"/>
<path d="M402.0 207.9L404.8 207.1L407.5 209.7L409.7 211.0L410.3 212.3L409.9 214.1L411.2 214.8L410.2 217.2L408.5 217.2L408.8 216.1L407.9 215.3L406.6 214.6L405.6 215.6L403.2 214.1L403.9 213.3L403.0 212.0L403.3 210.5L402.6 210.2Z" fill="#b10026"/>
<path d="M402.0 216.9L401.9 216.4L402.2 214.8L403.2 214.1L405.6 215.6L405.3 216.4L404.2 216.4L404.0 218.2Z" fill="#e31a1c"/>
<path d="M404.0 218.2L404.2 216.4L405.3 216.4L406.2 217.4L406.7 220.3L407.6 220.8L407.1 222.9L405.7 223.9L404.1 222.1L404.3 219.2Z" fill="#ffeda0"/>
<path d="M405.7 223.9L407.1 222.9L407.6 220.8L409.4 220.3L411.5 219.7L414.8 219.2L417.9 218.7L419.3 219.7L418.2 221.0L414.6 221.0L413.7 223.1L411.5 221.8L411.4 223.6L412.7 225.5L414.6 227.8L414.7 229.1L412.5 228.6L413.3 232.2L411.5 232.2L410.0 231.4L408.7 228.8L409.9 227.5L408.1 227.3L407.4 226.0ZM414.1 234.8L417.0 234.8L420.3 235.6L417.5 236.4L414.2 235.6Z" fill="#e31a1c"/>
<path d="M410.3 212.3L413.1 213.5L417.2 212.8L420.3 212.5L422.7 213.5L422.0 217.9L419.9 217.9L418.6 218.7L417.9 218.7L414.8 219.2L411.5 219.7L411.6 218.7L410.2 217.2L411.2 214.8L409.9 214.1Z" fill="#b10026"/>
<path d="M404.8 207.1L407.1 205.8L409.6 202.5L412.9 202.8L417.0 201.8L420.9 206.1L421.3 208.9L424.4 209.4L422.7 213.5L420.3 212.5L417.2 212.8L413.1 213.5L410.3 212.3L409.7 211.0L407.5 209.7Z" fill="#fd8d3c"/>
<path d="M417.0 201.8L419.8 201.5L422.4 202.8L424.6 206.4L422.7 207.1L421.3 208.9L420.9 206.1Z" fill="#ffeda0"/>
<path d="M407.9 201.5L408.7 199.7L410.9 195.4L409.8 193.4L412.5 192.7L417.6 193.7L423.6 193.9L425.8 192.2L429.1 191.7L434.0 196.4L439.3 197.7L443.5 198.5L443.7 202.5L441.1 204.8L437.8 205.8L435.0 207.1L432.0 207.6L435.2 208.7L438.4 209.2L435.6 210.7L432.6 211.7L430.2 209.2L432.0 207.6L428.7 206.4L426.2 206.4L424.4 209.4L421.3 208.9L422.7 207.1L424.6 206.4L422.4 202.8L419.8 201.5L417.0 201.8L412.9 202.8L409.6 202.5Z" fill="#fed976"/>
<path d="M409.8 193.4L409.7 192.2L410.0 190.7L408.8 187.7L412.6 186.9L414.1 183.2L417.0 182.2L422.4 183.5L422.6 185.4L427.0 188.9L424.5 189.4L425.8 192.2L423.6 193.9L417.6 193.7L412.5 192.7Z" fill="#fed976"/>
<path d="M403.5 184.2L403.2 182.2L405.0 181.5L410.5 181.5L414.1 183.2L412.6 186.9L408.8 187.7L407.3 186.4L406.9 185.2L404.1 184.5Z" fill="#fd8d3c"/>
<path d="M403.2 182.2L403.1 180.0L404.0 178.6L405.7 178.3L407.2 180.0L409.1 179.6L409.0 177.9L410.6 177.4L414.8 178.8L415.8 180.3L417.0 182.2L414.1 183.2L410.5 181.5L405.0 181.5Z" fill="#fd8d3c"/>
<path d="M409.0 177.9L406.9 175.9L406.7 174.7L410.3 173.8L415.0 174.0L414.2 175.7L415.0 177.9L414.8 178.8L410.6 177.4Z" fill="#fd8d3c"/>
<path d="M400.9 186.4L401.6 185.0L404.1 184.5L406.9 185.2L407.3 186.4Z" fill="#feb24c"/>
<path d="M418.2 221.0L419.3 219.7L417.9 218.7L418.6 218.7L419.9 217.9L422.0 217.9L424.4 220.0L428.7 220.3L433.6 217.9L436.8 217.9L440.2 219.7L444.6 220.5L447.8 220.5L450.7 219.2L453.4 219.2L455.1 220.3L456.0 222.6L458.5 223.9L457.5 225.2L458.6 227.5L459.7 230.4L454.5 230.7L451.5 230.7L446.9 231.7L442.4 231.4L441.6 233.8L440.8 231.4L437.6 231.7L435.7 233.3L432.4 233.3L429.1 232.7L427.0 233.0L423.6 231.7L421.9 229.6L419.5 227.0L420.3 224.4L418.6 223.1L421.5 222.1L424.6 221.8L424.5 220.5L421.3 220.8Z" fill="#feb24c"/>
<path d="M433.4 236.1L434.8 235.1L438.2 234.3L437.1 236.1L435.0 237.2Z" fill="#fd8d3c"/>
<path d="M414.3 150.3L411.6 151.9L411.4 153.8L412.6 155.4L414.6 158.8L416.7 161.5L416.4 163.8L419.6 166.2L415.9 169.9L414.1 171.6L416.6 172.8L415.0 174.0L414.2 175.7L415.0 177.9L414.8 178.8L415.8 180.3L417.0 182.2L422.4 183.5L422.6 185.4L427.0 188.9L424.5 189.4L425.8 192.2L429.1 191.7L434.0 196.4L439.3 197.7L443.5 198.5L443.7 202.5L441.1 204.8L443.4 204.8L441.0 206.6L440.4 208.9L439.1 209.7L442.0 211.7L446.0 214.1L446.6 214.3L452.0 214.8L455.4 216.4L458.6 216.6L461.0 218.2L464.2 220.0L465.5 218.5L462.5 215.3L461.7 211.5L460.0 208.9L462.6 206.9L464.0 206.6L461.9 203.8L458.4 201.8L457.8 199.5L457.1 196.7L460.2 195.9L463.6 193.2L469.4 194.4L472.7 195.7L476.5 194.9L480.7 195.7L485.5 195.2L481.5 192.4L482.8 189.9L483.6 187.4L488.9 186.2L495.8 184.2L500.9 186.9L505.9 187.4L511.9 186.4L515.3 189.2L522.3 195.2L529.2 194.9L534.9 198.5L539.1 199.7L540.0 199.5L543.3 197.2L546.4 195.4L552.3 197.2L559.4 197.5L557.3 193.7L559.5 192.4L565.4 193.9L567.3 196.4L572.9 196.4L577.5 197.5L586.4 199.0L589.5 197.5L592.2 196.9L597.2 198.0L599.9 198.7L601.8 196.9L601.0 192.4L600.3 190.9L599.6 189.2L604.1 188.7L608.9 189.9L618.5 197.5L618.9 198.0L626.5 200.2L629.6 203.3L633.0 202.3L635.9 201.5L636.6 204.6L638.3 209.7L634.7 210.5L637.3 215.3L637.4 216.9L637.8 217.2L640.0 214.6L644.2 211.5L644.8 207.6L645.6 204.3L646.1 200.0L642.6 194.9L639.7 189.4L635.2 187.4L629.3 187.4L624.1 185.4L625.7 181.3L626.9 177.6L627.5 174.5L633.8 174.2L638.8 173.8L645.9 175.2L650.7 174.5L648.1 169.0L653.0 168.5L657.0 166.6L659.2 168.8L656.7 171.6L657.9 178.1L663.0 185.0L674.5 194.7L673.2 189.9L672.3 185.7L675.9 185.4L672.2 182.0L670.3 178.1L665.3 173.0L668.5 172.3L677.0 172.8L677.5 169.2L682.5 166.9L684.8 165.9L678.1 162.4L675.0 161.7L677.0 161.1L678.4 160.8L665.3 152.1L660.5 151.2L654.1 150.3L645.9 149.8L648.4 152.0L640.1 150.9L631.8 150.9L626.6 148.8L617.1 147.7L607.1 146.4L601.7 144.9L588.2 144.5L589.5 146.6L582.9 146.6L578.3 148.1L574.8 147.2L569.7 144.5L564.9 142.6L560.4 143.4L552.9 143.2L543.0 142.2L536.7 141.5L533.6 143.0L535.0 140.7L534.6 137.3L531.2 135.9L523.5 134.7L518.5 133.9L515.0 136.3L509.8 137.1L501.7 138.1L498.1 139.1L498.6 141.3L491.5 142.2L493.0 145.1L496.9 146.0L500.4 149.4L493.4 146.6L488.8 144.9L483.2 143.8L484.0 145.5L483.7 147.7L486.9 150.9L489.4 154.3L489.4 157.0L488.1 158.3L486.0 157.4L486.0 154.3L484.6 150.9L481.4 147.7L479.7 143.8L474.5 142.8L474.7 146.6L474.6 150.9L478.2 153.6L471.0 151.4L463.7 150.3L464.2 152.7L455.9 153.1L454.6 153.8L452.2 152.3L444.9 154.9L440.9 153.6L436.1 152.9L439.0 157.6L439.4 158.8L435.7 157.9L432.7 159.5L434.5 162.2L430.2 162.7L428.7 163.6L424.4 162.2L423.6 159.9L418.8 156.3L423.4 157.2L429.8 158.5L433.7 157.2L433.4 154.7L431.0 154.3L423.4 151.6L418.2 150.9L414.6 150.3ZM60.9 152.1L62.6 153.1L64.4 155.4L67.9 156.5L69.0 158.5L59.0 162.2L56.7 162.0L56.1 159.9L52.6 159.9L47.8 160.8ZM446.8 146.2L451.0 148.1L457.8 148.5L453.4 144.9L453.8 142.8L456.9 140.1L461.4 137.7L467.0 136.1L465.6 135.3L460.3 136.3L453.7 137.7L449.6 139.7L448.8 142.4L447.5 144.5ZM502.3 131.4L509.9 133.3L516.5 132.7L515.4 130.9L506.5 129.6L499.9 127.9L497.5 129.3ZM574.4 138.3L581.3 139.7L586.9 139.3L588.3 138.3L580.1 137.1L575.1 137.3ZM591.3 138.7L597.0 139.3L593.7 138.3ZM585.6 142.6L589.8 142.8L590.5 142.2L585.3 141.3ZM655.6 147.7L658.1 147.7L656.2 146.6L654.6 146.6ZM655.1 207.6L656.7 205.6L653.1 202.5L653.0 199.2L646.9 193.7L643.8 189.9L639.3 186.4L640.2 188.7L644.1 193.7L649.0 198.7L651.4 202.5ZM444.2 151.4L446.7 152.0L446.0 152.5ZM70.0 146.6L73.3 147.0L71.9 147.9L67.4 148.1Z" fill="#feb24c"/>
<path d="M464.0 206.6L461.9 203.8L458.4 201.8L457.8 199.5L457.1 196.7L460.2 195.9L463.6 193.2L469.4 194.4L472.7 195.7L476.5 194.9L480.7 195.7L485.5 195.2L481.5 192.4L482.8 189.9L483.6 187.4L488.9 186.2L495.8 184.2L500.9 186.9L505.9 187.4L511.9 186.4L515.3 189.2L522.3 195.2L529.2 194.9L534.9 198.5L539.1 199.7L537.2 201.3L537.7 204.8L532.5 204.6L533.5 209.4L528.6 210.2L531.2 215.3L531.7 217.4L528.6 215.9L522.3 215.6L518.4 214.8L517.4 216.6L512.1 216.6L512.2 217.4L510.8 219.2L508.4 221.6L506.4 220.0L503.7 220.0L502.0 217.9L501.2 215.3L498.2 213.5L492.5 214.1L489.8 212.0L483.7 208.7L478.9 210.2L481.4 219.7L478.5 218.2L473.7 218.5L473.9 216.6L470.8 214.8L467.6 212.0L469.0 210.2L472.5 209.4L471.5 205.6L467.3 205.1Z" fill="#ffeda0"/>
<path d="M481.4 219.7L478.9 210.2L483.7 208.7L489.8 212.0L492.5 214.1L498.2 213.5L501.2 215.3L502.0 217.9L503.7 220.0L506.4 220.0L508.4 221.6L510.8 219.2L512.2 217.4L514.2 219.7L517.8 221.0L515.7 222.6L512.9 222.6L510.4 222.6L509.5 224.2L507.8 224.9L509.5 227.8L509.3 230.4L506.3 229.9L501.1 226.0L496.1 223.1L494.0 220.3L490.3 219.7L489.3 217.4L485.8 216.1L483.5 219.7L481.4 219.7Z" fill="#ffffcc"/>
<path d="M473.7 218.5L478.5 218.2L481.4 219.7L483.5 219.7L485.8 216.1L489.3 217.4L490.3 219.7L494.0 220.3L496.1 223.1L501.1 226.0L506.3 229.9L504.2 230.1L502.6 232.5L498.9 235.4L495.9 234.6L495.4 232.0L490.8 229.6L485.8 227.8L482.4 228.6L479.2 230.1L478.2 226.0L476.2 224.9L476.8 222.6L475.0 221.0L477.4 220.5Z" fill="#ffffcc"/>
<path d="M531.7 217.4L528.6 215.9L522.3 215.6L518.4 214.8L517.4 216.6L512.1 216.6L512.2 217.4L510.8 219.2L514.2 219.7L517.8 221.0L515.7 222.6L512.9 222.6L510.4 222.6L511.2 224.2L515.6 224.4L520.4 224.7L521.9 222.1L525.6 220.5L528.5 219.5L531.7 217.4Z" fill="#ffffcc"/>
<path d="M446.6 214.3L452.0 214.8L455.4 216.4L458.6 216.6L461.0 218.2L461.4 220.0L458.2 219.7L455.1 220.3L453.4 219.2L450.7 219.2L450.6 217.4L448.9 215.3Z" fill="#ffeda0"/>
<path d="M455.1 220.3L458.2 219.7L459.5 221.0L462.3 224.4L462.1 226.0L460.1 224.4L458.5 223.9L456.0 222.6Z" fill="#ffffcc"/>
<path d="M458.2 219.7L461.4 220.0L461.0 218.2L464.2 220.0L465.5 218.5L468.1 221.6L469.9 222.3L468.3 224.9L467.9 227.3L465.8 226.2L465.4 224.2L462.6 226.0L462.3 224.4L459.5 221.0ZM458.5 223.9L460.1 224.4L462.1 226.0L460.4 226.0L458.6 224.2Z" fill="#ffffcc"/>
<path d="M540.0 199.5L543.3 197.2L546.4 195.4L552.3 197.2L559.4 197.5L557.3 193.7L559.5 192.4L565.4 193.9L567.3 196.4L572.9 196.4L577.5 197.5L586.4 199.0L589.5 197.5L592.2 196.9L597.2 198.0L597.2 198.0L597.4 200.5L603.7 202.5L608.4 205.8L603.8 206.4L601.3 208.9L598.2 210.7L596.4 213.5L592.9 216.6L584.6 219.0L575.0 216.4L566.4 215.9L561.6 212.3L556.5 210.2L551.1 209.7L548.9 205.6L543.0 202.0L540.0 199.5Z" fill="#ffeda0"/>
<path d="M531.7 217.4L531.2 215.3L528.6 210.2L533.5 209.4L532.5 204.6L537.7 204.8L537.2 201.3L539.1 199.7L540.0 199.5L543.0 202.0L548.9 205.6L551.1 209.7L556.5 210.2L561.6 212.3L566.4 215.9L575.0 216.4L584.6 219.0L592.9 216.6L596.4 213.5L598.2 210.7L601.3 208.9L603.8 206.4L608.4 205.8L603.7 202.5L597.4 200.5L597.2 198.0L599.9 198.7L601.8 196.9L601.0 192.4L600.3 190.9L599.6 189.2L604.1 188.7L608.9 189.9L618.5 197.5L618.9 198.0L626.5 200.2L629.6 203.3L633.0 202.3L635.9 201.5L636.6 204.6L638.3 209.7L634.7 210.5L637.3 215.3L637.4 216.9L635.8 215.6L635.6 216.6L632.5 217.9L633.8 219.5L630.4 218.7L628.2 221.6L627.7 223.4L622.5 222.1L622.5 226.2L623.0 225.2L622.0 221.8L619.4 221.0L617.3 225.2L615.1 226.5L618.9 229.6L622.6 228.8L626.9 229.9L627.4 231.4L624.1 233.3L622.5 236.1L625.4 238.0L628.5 242.1L631.7 244.8L632.4 246.9L630.5 248.4L633.6 249.7L633.9 253.6L632.3 256.5L631.3 260.7L629.5 263.3L627.2 266.2L624.8 267.8L621.0 269.3L619.4 269.6L615.9 271.2L613.1 271.9L613.0 274.6L611.4 271.7L608.4 270.9L607.1 271.2L604.1 268.0L600.7 266.7L597.8 268.5L593.8 269.1L593.4 272.2L591.9 271.4L589.7 271.4L587.2 269.6L587.5 267.8L585.3 264.9L582.8 264.9L584.5 260.7L583.4 255.5L580.3 253.6L577.4 253.6L574.2 251.6L569.4 255.0L567.4 255.0L563.6 253.9L561.4 256.3L560.8 254.4L554.8 254.4L549.9 252.1L544.6 248.4L542.7 248.7L537.5 246.1L536.2 242.7L537.5 241.4L535.1 238.0L532.0 234.8L527.9 233.8L524.6 230.4L524.6 229.9L523.6 227.0L520.4 224.7L521.9 222.1L525.6 220.5L528.5 219.5ZM609.8 277.2L611.8 275.1L614.8 275.6L614.1 278.5L612.1 280.0L610.1 279.0Z" fill="#ffffcc"/>
<path d="M627.7 223.4L628.2 221.6L630.4 218.7L633.8 219.5L632.5 217.9L635.6 216.6L635.8 215.6L637.4 216.9L637.6 220.5L636.5 223.1L635.0 224.4L637.9 226.8L635.5 228.8L631.8 228.8L631.4 226.5L629.7 224.4Z" fill="#ffffcc"/>
<path d="M635.5 228.8L637.9 226.8L642.3 230.9L644.0 234.6L642.8 236.4L639.0 237.7L637.4 234.8L636.5 231.4Z" fill="#ffeda0"/>
<path d="M649.1 238.8L651.0 235.1L656.0 234.3L657.9 230.1L659.6 231.4L661.4 229.9L662.0 226.5L660.9 223.1L659.5 220.0L661.7 219.5L665.0 223.1L666.6 227.5L667.1 230.9L668.4 234.3L667.3 236.1L665.6 236.1L663.9 237.2L661.6 236.9L661.6 238.0L660.4 240.1L657.6 237.2L654.3 237.7L652.4 238.2L649.4 239.0ZM658.6 219.2L656.6 214.8L659.4 214.8L655.5 209.2L661.4 212.3L664.9 212.0L667.1 214.6L664.7 215.6L664.5 217.9L660.1 216.6L659.8 218.5ZM648.0 239.8L649.4 239.0L651.9 240.8L652.8 245.3L651.7 246.3L649.7 244.0L647.5 241.4ZM652.8 239.3L656.2 238.0L657.6 239.3L656.0 240.6L654.8 241.9Z" fill="#ffeda0"/>
<path d="M495.9 234.6L498.9 235.4L502.6 232.5L504.2 230.1L506.3 229.9L509.3 230.4L510.8 230.4L512.7 229.6L513.9 227.5L516.7 228.6L518.6 231.4L521.5 230.1L524.6 230.4L523.8 230.9L518.8 232.2L518.1 233.8L517.9 237.4L516.2 239.5L515.5 241.4L515.7 244.2L512.9 244.8L510.0 246.9L510.1 249.5L505.1 250.5L501.9 250.8L498.1 249.7L499.7 247.1L499.2 245.5L497.2 245.3L495.8 241.4L496.0 238.0Z" fill="#ffeda0"/>
<path d="M498.1 249.7L501.9 250.8L505.1 250.5L510.1 249.5L510.0 246.9L512.9 244.8L515.7 244.2L515.5 241.4L516.2 239.5L517.9 237.4L518.1 233.8L518.8 232.2L523.8 230.9L527.9 233.8L532.0 234.8L530.8 236.7L524.3 236.9L526.6 241.9L528.7 243.2L527.7 246.6L525.1 250.5L521.4 254.7L519.2 255.0L521.2 260.4L522.8 263.8L517.9 264.1L516.7 265.7L514.1 263.1L512.5 261.2L507.9 261.7L501.4 261.7L501.5 258.9L504.4 257.6L504.5 256.5L503.0 253.6Z" fill="#ffeda0"/>
<path d="M532.0 234.8L535.1 238.0L537.5 241.4L536.2 242.7L537.5 246.1L542.7 248.7L541.2 252.3L545.9 254.7L550.6 255.7L555.5 258.1L560.3 258.6L559.5 254.7L561.4 256.3L562.1 257.6L568.8 257.3L567.4 255.0L569.4 255.0L574.2 251.6L577.4 253.6L579.9 253.9L580.0 256.5L576.4 259.7L575.7 263.1L573.1 264.9L573.8 267.8L572.3 270.1L571.0 265.7L569.0 267.2L568.4 264.9L570.5 262.5L565.1 261.5L564.3 259.7L561.1 259.1L560.9 261.7L562.9 264.1L563.0 266.7L564.2 270.1L562.5 270.9L559.8 271.4L559.1 274.8L556.0 276.9L553.1 280.6L550.7 284.2L548.5 285.0L546.5 287.1L546.5 292.3L546.3 296.2L546.4 300.7L544.7 303.3L542.9 304.3L541.4 306.4L539.2 304.1L537.0 297.5L534.5 293.6L533.2 288.9L530.8 285.8L528.4 278.0L527.6 272.7L527.0 270.9L525.0 273.2L522.7 273.2L518.9 269.6L521.7 267.8L518.2 266.7L516.7 265.7L517.9 264.1L522.8 263.8L521.2 260.4L519.2 255.0L521.4 254.7L525.1 250.5L527.7 246.6L528.7 243.2L526.6 241.9L524.3 236.9L530.8 236.7Z" fill="#fed976"/>
<path d="M541.2 252.3L542.7 248.7L544.6 248.4L549.9 252.1L554.8 254.4L559.5 254.7L560.3 258.6L555.5 258.1L550.6 255.7L545.9 254.7Z" fill="#fed976"/>
<path d="M561.4 256.3L563.6 253.9L567.4 255.0L568.8 257.3L562.1 257.6Z" fill="#fed976"/>
<path d="M560.9 261.7L561.1 259.1L564.3 259.7L565.1 261.5L570.5 262.5L568.4 264.9L569.0 267.2L571.0 265.7L572.3 270.1L572.1 273.2L570.4 269.3L567.3 268.3L566.0 270.4L564.2 270.1L563.0 266.7L562.9 264.1Z" fill="#feb24c"/>
<path d="M546.7 306.2L547.4 302.0L549.9 305.4L551.7 308.5L550.8 311.1L548.3 312.2L546.9 309.8Z" fill="#ffffcc"/>
<path d="M572.1 273.2L572.3 270.1L573.8 267.8L573.1 264.9L575.7 263.1L576.4 259.7L580.0 256.5L579.9 253.9L580.3 253.6L583.4 255.5L584.5 260.7L582.8 264.9L585.3 264.9L587.5 267.8L587.2 269.6L589.7 271.4L591.9 271.4L589.9 274.3L587.4 275.9L585.4 279.3L584.5 279.3L588.0 285.0L587.5 288.1L590.3 293.1L590.7 297.5L589.9 301.5L588.6 299.6L589.5 296.2L586.7 288.9L585.7 284.5L583.1 284.2L580.9 286.3L578.3 285.8L578.2 281.1L575.2 275.9Z" fill="#feb24c"/>
<path d="M584.5 279.3L585.4 279.3L587.4 275.9L589.9 274.3L591.4 276.6L592.7 276.6L593.3 281.9L595.3 280.0L598.4 279.5L601.5 281.9L602.2 285.0L604.2 286.8L604.4 290.0L598.7 290.2L597.5 292.1L599.2 297.0L596.9 294.9L594.6 294.4L594.1 292.3L592.1 292.6L592.2 296.2L590.9 300.2L591.4 303.3L593.8 305.4L594.5 308.8L597.3 309.8L598.3 311.4L596.1 312.7L593.9 310.6L592.4 308.8L589.7 305.9L589.1 304.1L589.9 301.5L590.7 297.5L590.3 293.1L587.5 288.1L588.0 285.0Z" fill="#ffffcc"/>
<path d="M589.9 274.3L591.9 271.4L593.4 272.2L593.8 269.1L596.0 271.4L600.0 273.5L598.9 275.3L602.1 278.7L607.0 283.7L608.9 287.9L608.9 289.4L605.5 290.0L604.4 290.0L604.2 286.8L602.2 285.0L601.5 281.9L598.4 279.5L595.3 280.0L593.3 281.9L592.7 276.6L591.4 276.6Z" fill="#ffeda0"/>
<path d="M593.8 269.1L597.8 268.5L600.7 266.7L604.1 268.0L607.1 271.2L604.7 273.2L603.5 275.6L603.5 278.5L607.3 282.7L610.5 285.8L612.7 288.9L613.8 294.2L613.2 297.8L610.0 300.2L608.4 300.4L608.1 302.8L605.1 305.1L603.9 302.0L602.9 300.4L606.2 298.9L606.2 296.8L609.6 295.5L608.9 289.4L608.9 287.9L607.0 283.7L602.1 278.7L598.9 275.3L600.0 273.5L596.0 271.4Z" fill="#ffffcc"/>
<path d="M597.5 292.1L598.7 290.2L604.4 290.0L605.5 290.0L608.9 289.4L609.6 295.5L606.2 296.8L606.2 298.9L602.9 300.4L601.0 300.2L599.5 298.1L599.2 297.0Z" fill="#ffeda0"/>
<path d="M593.9 310.6L596.1 312.7L598.3 311.4L601.5 315.1L601.7 320.3L603.6 323.9L602.0 324.2L596.8 320.0L594.5 314.8ZM616.0 322.6L619.7 323.9L620.1 321.1L623.8 319.2L625.7 315.8L628.6 314.5L631.8 309.6L633.8 311.1L637.8 314.0L635.2 316.4L634.3 316.6L630.1 316.4L628.4 319.8L628.5 321.3L623.9 323.9L621.2 325.0L618.2 325.2Z" fill="#ffffcc"/>
<path d="M625.9 315.6L628.6 314.5L628.7 316.4L627.1 316.6Z" fill="#ffffcc"/>
<path d="M582.5 313.0L587.8 313.8L590.2 316.4L594.5 319.5L598.0 322.4L602.5 326.0L603.1 330.2L604.7 332.3L607.9 335.4L607.1 343.0L603.9 343.0L599.0 338.8L595.7 334.4L593.9 329.7L591.2 325.5L588.5 321.3L585.0 317.9L582.5 314.5ZM605.6 345.4L608.5 343.3L613.0 344.6L618.3 344.3L622.9 345.6L626.6 347.7L626.2 350.1L621.9 349.3L616.2 348.5L611.7 348.0L608.0 346.9ZM614.7 326.8L616.0 322.6L618.2 325.2L621.2 325.0L623.9 323.9L628.5 321.3L628.4 319.8L630.1 316.4L634.3 316.6L635.4 321.1L635.0 325.0L634.3 327.6L631.5 332.3L630.6 337.0L627.4 338.3L623.8 336.0L620.8 336.5L617.3 335.2L617.0 331.5L614.7 328.9ZM639.6 325.5L642.4 324.2L648.2 325.2L651.6 323.2L650.5 326.6L647.0 326.6L641.9 326.8L640.5 330.0L643.5 330.0L647.7 329.7L644.7 332.3L646.3 338.1L644.3 340.1L643.3 336.7L642.0 334.7L640.8 336.7L640.6 342.0L638.5 342.0L638.7 336.7L637.4 334.9L638.4 331.0L639.6 327.6ZM628.9 349.0L632.3 349.6L636.9 349.6L636.6 350.6L632.1 351.1L629.4 350.6ZM638.7 349.6L645.6 349.3L645.5 350.6L639.1 350.6ZM636.6 352.4L640.7 353.5L638.8 354.5ZM646.8 354.5L649.1 351.9L650.7 351.6L648.9 354.0ZM657.6 329.7L658.5 323.7L660.1 323.7L659.0 326.8L660.6 327.1L658.6 329.2ZM653.8 336.0L656.1 335.7L656.5 337.3L653.9 337.5ZM658.4 335.2L661.9 334.9L664.8 336.5L661.8 336.7L658.4 336.5ZM665.4 331.3L668.9 328.6L672.4 329.7L674.5 336.2L678.1 333.3L681.6 331.8L688.4 334.4L687.3 351.4L682.9 348.8L680.6 349.6L682.4 346.4L681.1 342.0L675.5 339.4L671.0 337.8L670.0 334.1L668.1 334.9L672.3 332.8L666.1 331.5ZM671.8 343.3L673.7 342.5L672.8 345.4ZM664.7 347.2L666.6 346.4L665.7 348.5ZM607.7 332.8L609.5 335.4L607.2 334.9ZM611.6 334.4L613.0 335.2L611.8 336.0Z" fill="#ffffcc"/>
<path d="M650.3 351.1L655.7 349.6L655.2 350.6L650.7 352.4Z" fill="#feb24c"/>
<path d="M637.0 279.3L640.9 279.3L641.8 283.2L640.4 286.3L641.5 290.5L646.9 291.3L647.5 294.7L643.7 291.3L640.6 292.1L639.0 290.5L637.6 288.4L637.5 285.3ZM651.5 302.0L654.2 306.7L653.8 311.1L652.1 312.7L651.9 309.8L648.7 310.6L648.5 308.0L644.3 309.6L645.0 306.7L647.7 305.4L649.9 304.3ZM632.7 305.6L637.6 300.2L637.3 298.1L633.9 303.3ZM648.0 294.9L650.3 294.9L651.6 298.6L650.1 299.4L649.4 297.3ZM642.9 296.8L645.3 297.3L645.6 300.2L643.3 300.2ZM645.9 303.3L646.7 299.4L647.7 298.3L647.4 302.8ZM639.0 292.3L641.4 293.1L641.0 295.5L639.9 294.4Z" fill="#ffffcc"/>
<path d="M458.5 223.9L460.4 226.0L462.6 226.0L465.4 224.2L465.8 226.2L467.9 227.3L469.0 229.4L472.1 230.9L475.4 231.7L479.2 230.1L482.4 228.6L485.8 227.8L490.8 229.6L495.4 232.0L495.9 234.6L496.0 238.0L495.8 241.4L497.2 245.3L499.2 245.5L499.7 247.1L498.1 249.7L503.0 253.6L504.5 256.5L504.4 257.6L501.5 258.9L501.4 261.7L495.5 261.2L491.6 260.2L490.0 256.8L486.2 258.1L482.8 257.8L480.3 255.7L476.5 252.3L474.3 249.2L471.5 248.2L470.8 249.5L469.3 247.9L468.5 246.6L468.2 243.2L464.0 241.4L462.3 238.8L463.6 235.9L461.5 233.5L459.7 230.4L458.6 227.5L457.5 225.2Z" fill="#ffffcc"/>
<path d="M454.5 230.7L459.7 230.4L461.5 233.5L463.6 235.9L462.3 238.8L464.0 241.4L468.2 243.2L468.5 246.6L469.3 247.9L470.8 249.5L469.2 249.2L467.9 249.2L466.4 251.6L462.4 251.3L455.9 246.6L452.1 244.2L449.3 243.5L448.1 240.3L452.5 237.7L452.2 232.2Z" fill="#ffffcc"/>
<path d="M440.0 241.1L441.3 240.6L443.0 238.2L441.5 237.1L441.5 237.2Z" fill="#fc4e2a"/>
<path d="M438.6 245.8L439.7 241.9L440.0 241.1L441.3 240.6L441.3 242.9L441.4 245.3L440.8 250.5L440.6 250.5Z" fill="#fed976"/>
<path d="M440.8 250.5L441.4 245.3L441.3 242.9L441.5 242.1L444.0 243.2L448.1 240.3L449.3 243.5L444.7 245.3L447.2 247.9L446.2 249.2L444.1 250.5L443.3 251.3Z" fill="#fed976"/>
<path d="M466.4 251.6L467.9 249.2L469.2 249.2L470.8 253.1L468.8 253.1Z" fill="#ffffcc"/>
<path d="M440.6 250.8L443.3 251.3L444.1 250.5L446.2 249.2L447.2 247.9L444.7 245.3L449.3 243.5L452.1 244.2L455.9 246.6L462.4 251.3L466.4 251.6L468.8 253.1L470.8 253.1L472.5 255.7L475.4 258.1L477.2 262.8L479.2 264.1L481.7 267.8L487.7 268.3L488.9 270.1L487.8 275.3L481.2 278.0L474.5 279.0L472.7 280.0L470.2 283.4L466.5 282.4L461.9 281.9L461.6 284.0L460.7 284.7L458.7 281.1L455.6 275.9L451.8 272.7L450.9 268.0L447.0 263.6L445.1 259.7L441.6 254.4L440.2 254.2Z" fill="#ffffcc"/>
<path d="M460.7 284.7L461.6 284.0L461.9 281.9L466.5 282.4L470.2 283.4L472.7 280.0L474.5 279.0L481.2 278.0L484.1 284.0L482.3 286.8L475.2 291.0L471.8 292.1L466.2 294.2L462.8 294.4L462.0 292.8L460.9 288.9Z" fill="#ffeda0"/>
<path d="M484.1 284.0L481.2 278.0L487.8 275.3L488.9 270.1L487.7 268.3L488.6 264.4L489.8 262.5L490.9 264.4L495.1 265.9L498.1 268.8L495.6 274.3L494.4 278.0L491.6 280.6L489.0 281.6L488.0 283.2ZM488.8 259.4L489.6 258.9L489.4 260.7Z" fill="#ffffcc"/>
<path d="M479.2 264.1L481.7 267.8L487.7 268.3L488.6 264.4L489.8 262.5L488.8 259.7L487.2 261.5L484.6 264.4L481.4 264.4Z" fill="#ffffcc"/>
<path d="M477.2 262.8L479.1 263.3L478.7 259.9L477.8 259.4L477.1 261.0Z" fill="#ffffcc"/>
<path d="M351.6 233.8L358.3 235.9L359.4 237.4L360.5 242.7L356.5 244.8L355.1 246.9L352.0 249.2L348.7 250.3L343.7 252.6L343.7 255.2L333.7 255.2L337.5 252.9L340.9 250.0L341.7 246.6L342.9 242.7L346.7 239.5L349.6 236.1Z" fill="#ffffcc"/>
<path d="M358.3 235.9L363.1 233.8L366.3 232.2L370.7 231.2L376.0 230.9L381.7 231.2L380.9 236.1L379.7 238.8L381.3 242.7L383.1 243.7L384.1 248.7L385.1 253.1L385.0 258.4L384.2 259.1L385.6 263.6L390.1 266.2L380.1 273.0L376.7 276.1L370.6 278.0L370.1 275.9L367.2 274.6L352.3 262.3L343.7 256.3L343.7 252.6L348.7 250.3L352.0 249.2L355.1 246.9L356.5 244.8L360.5 242.7L359.4 237.4Z" fill="#ffffcc"/>
<path d="M381.7 231.2L384.2 230.1L385.3 231.4L386.8 230.9L386.1 234.3L387.1 238.0L385.4 239.0L388.3 240.8L388.4 242.9L385.8 244.8L385.2 247.9L384.1 248.7L383.1 243.7L381.3 242.7L379.7 238.8L380.9 236.1Z" fill="#ffffcc"/>
<path d="M418.1 244.2L422.7 245.8L427.2 246.9L431.5 245.3L434.4 245.8L438.6 245.8L440.6 250.5L440.0 254.4L439.4 255.2L437.2 253.1L435.4 249.7L435.9 253.1L438.6 257.0L441.2 261.0L443.2 265.1L446.2 270.1L434.0 270.1L419.6 270.1L418.4 251.3L418.5 249.2Z" fill="#ffffcc"/>
<path d="M324.6 271.9L333.7 271.9L333.8 267.5L336.1 266.2L336.2 259.7L343.6 259.7L343.7 256.3L352.3 262.3L348.5 262.3L350.6 284.5L351.0 287.1L341.9 287.1L338.7 287.4L336.4 287.1L335.2 288.9L332.7 286.1L330.0 284.2L325.9 284.5L325.5 285.5L326.7 280.6L325.7 276.9L326.4 274.6Z" fill="#ffffcc"/>
<path d="M352.3 262.3L367.2 274.6L370.1 275.9L370.6 278.0L372.6 277.7L372.7 283.7L371.1 287.4L365.4 288.4L363.6 288.7L361.5 288.1L358.5 290.5L355.1 292.8L353.3 293.1L350.9 296.8L350.5 300.4L348.9 299.6L345.0 300.9L344.0 298.9L343.1 298.1L341.5 295.5L338.6 296.2L337.0 295.7L337.0 293.6L335.2 290.0L335.2 288.9L336.4 287.1L338.7 287.4L341.9 287.1L351.0 287.1L350.6 284.5L348.5 262.3Z" fill="#ffffcc"/>
<path d="M372.6 277.7L376.7 276.1L380.1 273.0L390.1 266.2L395.1 268.5L396.9 267.5L399.4 274.3L398.4 283.4L394.0 289.7L394.2 291.8L391.7 293.4L387.6 292.6L383.7 294.2L381.0 292.8L378.9 293.6L375.7 291.3L372.5 292.3L371.4 297.0L369.5 295.5L368.1 295.2L367.7 297.8L365.2 293.6L363.6 288.7L365.4 288.4L371.1 287.4L372.7 283.7Z" fill="#ffffcc"/>
<path d="M396.9 267.5L399.1 266.2L417.6 276.6L417.9 286.6L415.4 286.8L414.1 291.3L414.7 294.7L415.6 297.8L415.7 299.1L412.9 299.9L410.0 303.8L406.6 304.6L405.9 306.7L401.5 307.5L398.8 308.0L398.3 305.4L395.3 301.7L398.7 301.5L397.5 298.9L397.3 295.7L395.4 293.4L394.0 289.7L398.4 283.4L399.4 274.3Z" fill="#ffffcc"/>
<path d="M446.6 290.2L449.7 288.7L452.3 289.4L456.4 290.5L458.6 292.8L460.3 294.9L458.8 297.3L459.1 299.1L461.6 299.1L463.1 303.0L471.3 306.7L473.6 306.7L466.8 314.5L463.4 315.1L459.7 317.4L457.2 316.6L454.2 318.7L451.0 318.2L446.1 316.1L444.5 313.5L441.4 308.3L439.0 307.0L441.5 305.1L441.0 302.8L441.9 301.5L441.4 299.6L443.6 296.8L445.8 294.4Z" fill="#ffffcc"/>
<path d="M441.5 316.6L444.5 313.5L446.1 316.1L451.0 318.2L454.2 318.7L457.2 316.6L459.7 317.4L457.7 320.3L457.7 330.0L459.1 332.0L455.8 334.7L453.5 339.9L450.1 336.7L449.8 335.4L441.3 330.2L441.6 327.6L442.7 324.7L443.9 322.6Z" fill="#ffffcc"/>
<path d="M434.1 318.5L434.6 317.9L441.5 316.6L443.9 322.6L442.7 324.7L441.6 327.6L441.3 330.2L433.5 330.2L431.4 331.3L431.7 325.5L434.6 321.9Z" fill="#ffffcc"/>
<path d="M433.5 330.2L441.3 330.2L449.8 335.4L450.1 336.7L453.5 339.9L452.5 344.6L454.1 345.9L453.5 350.1L455.9 354.8L450.3 357.1L446.8 358.2L443.2 357.9L441.9 352.7L439.0 352.2L434.4 350.1L432.6 345.9L430.8 343.3L431.1 339.4L434.1 336.2L433.5 333.9Z" fill="#ffffcc"/>
<path d="M430.0 334.7L431.4 331.3L433.5 330.2L434.2 333.6L433.5 333.9L431.2 334.9Z" fill="#fed976"/>
<path d="M430.0 334.7L431.2 334.9L433.5 333.9L434.1 336.2L431.1 339.4L430.5 336.7Z" fill="#fed976"/>
<path d="M325.5 285.5L325.9 284.5L330.0 284.2L332.7 286.1L335.2 288.9L335.2 290.0L337.0 293.6L337.0 295.2L331.7 294.7L327.6 294.7L324.8 295.2L324.6 293.1L327.6 293.1L328.8 291.5L331.5 292.6L328.8 292.1L325.1 292.1L323.1 289.2Z" fill="#ffffcc"/>
<path d="M324.6 293.1L325.1 292.1L328.8 292.1L331.5 292.6L328.8 291.5L327.6 293.1Z" fill="#ffffcc"/>
<path d="M324.8 295.2L327.6 294.7L331.7 294.7L331.7 297.0L328.7 299.1L326.4 297.3Z" fill="#ffffcc"/>
<path d="M332.5 304.1L334.4 301.7L337.4 301.5L338.7 303.3L339.4 305.4L338.7 306.7L336.6 309.6L334.3 308.3L332.7 305.6Z" fill="#ffeda0"/>
<path d="M336.6 309.6L338.7 306.7L339.4 305.4L341.2 305.6L341.5 308.3L343.5 307.7L343.8 310.6L345.8 312.4L345.6 316.1L342.4 314.5L338.2 311.1Z" fill="#ffffcc"/>
<path d="M343.5 307.7L345.4 305.6L344.2 304.1L345.0 300.9L348.9 299.6L350.5 300.4L352.3 302.3L356.2 301.7L356.9 303.0L357.3 306.2L355.7 309.8L356.6 314.3L352.7 314.0L349.3 315.1L345.6 316.1L345.8 312.4L343.8 310.6Z" fill="#ffffcc"/>
<path d="M350.5 300.4L350.9 296.8L353.3 293.1L355.1 292.8L358.5 290.5L361.5 288.1L363.6 288.7L365.2 293.6L367.7 297.8L368.6 296.5L365.4 298.9L363.1 298.6L361.5 298.9L356.7 298.9L356.9 303.0L356.2 301.7L352.3 302.3Z" fill="#ffeda0"/>
<path d="M356.6 314.3L355.7 309.8L357.3 306.2L356.9 303.0L356.7 298.9L361.5 298.9L363.1 298.6L364.0 300.7L364.3 306.2L364.7 310.9L365.9 311.7L363.1 313.0L359.0 315.1Z" fill="#ffffcc"/>
<path d="M363.1 298.6L365.4 298.9L364.9 300.4L366.3 303.3L367.0 311.4L365.9 311.7L364.7 310.9L364.3 306.2L364.0 300.7Z" fill="#ffffcc"/>
<path d="M365.4 298.9L368.6 296.5L367.7 297.8L368.1 295.2L369.5 295.5L371.4 297.0L371.8 300.2L369.5 304.1L369.3 310.9L367.0 311.4L366.3 303.3L364.9 300.4Z" fill="#ffffcc"/>
<path d="M369.3 310.9L369.5 304.1L371.8 300.2L371.4 297.0L372.5 292.3L375.7 291.3L378.9 293.6L381.0 292.8L383.7 294.2L387.6 292.6L391.7 293.4L394.2 291.8L395.4 293.4L395.6 294.9L396.6 297.5L394.1 300.9L392.5 304.9L390.3 309.3L387.5 309.3L385.7 309.8L383.4 312.4L382.7 315.3L379.2 316.1L376.7 316.4L374.6 312.4L373.0 311.1Z" fill="#ffffcc"/>
<path d="M382.7 315.3L383.4 312.4L385.7 309.8L387.5 309.3L390.3 309.3L392.5 304.9L394.1 300.9L396.6 297.5L395.6 294.9L395.4 293.4L397.3 295.7L397.5 298.9L398.7 301.5L395.3 301.7L398.3 305.4L398.8 308.0L396.5 311.4L396.8 314.5L399.5 319.5L400.3 323.2L396.6 321.9L393.8 321.9L389.2 321.9L385.7 321.6L385.7 319.5L385.0 317.4Z" fill="#ffffcc"/>
<path d="M388.7 337.8L390.3 336.5L389.9 334.4L391.9 333.6L392.6 332.8L395.9 333.9L396.6 332.6L396.3 328.9L396.3 324.2L393.6 324.2L393.8 321.9L396.6 321.9L400.3 323.2L400.3 321.6L401.6 318.5L406.0 318.5L404.6 321.6L404.2 326.8L403.5 329.4L400.5 333.3L399.8 337.8L396.8 340.4L396.3 338.8L394.0 340.1L392.6 339.1L391.2 340.7L390.8 340.7Z" fill="#ffffcc"/>
<path d="M391.2 342.8L391.2 340.7L392.6 339.1L394.0 340.1L396.3 338.8L396.8 340.4L399.8 337.8L400.5 333.3L403.5 329.4L404.2 326.8L404.6 321.6L406.0 318.5L406.0 316.4L408.0 314.3L411.5 316.4L415.0 316.9L417.0 315.6L419.3 314.3L421.9 314.0L426.3 314.3L431.6 315.8L434.1 318.5L434.6 321.9L431.7 325.5L431.4 331.3L430.0 334.7L430.5 336.7L431.1 339.4L430.8 343.3L432.6 345.9L433.7 349.3L429.6 349.8L428.4 351.9L428.8 355.0L428.2 358.7L431.4 359.5L431.3 362.6L428.4 360.3L425.5 357.9L421.6 356.9L419.1 356.9L418.2 356.1L417.7 356.3L414.3 356.9L414.1 353.7L413.3 348.5L410.3 346.7L408.0 347.2L406.8 348.5L403.6 348.8L401.3 343.0L393.5 343.0Z" fill="#ffffcc"/>
<path d="M413.5 361.6L418.1 361.6L418.2 356.1L419.1 356.9L421.6 356.9L425.5 357.9L428.4 360.3L431.3 362.6L431.4 359.5L428.2 358.7L428.8 355.0L428.4 351.9L429.6 349.8L433.7 349.3L434.4 350.1L439.0 352.2L439.6 355.8L439.0 360.3L438.0 363.1L439.1 364.2L432.1 366.3L432.5 368.4L429.1 369.1L424.5 374.4L420.7 374.1L416.4 373.6L413.3 369.9Z" fill="#ffffcc"/>
<path d="M439.0 352.2L441.9 352.7L443.2 357.9L442.3 362.9L445.0 365.8L444.8 369.4L443.3 372.3L441.4 369.4L442.0 365.5L439.1 364.2L438.0 363.1L439.0 360.3L439.6 355.8Z" fill="#ffffcc"/>
<path d="M420.7 374.1L424.5 374.4L429.1 369.1L432.5 368.4L432.5 369.4L436.1 370.7L438.3 371.5L437.9 375.9L437.7 379.6L436.6 383.3L433.8 386.1L429.5 385.6L426.4 384.0L425.8 381.2L422.5 378.8L420.6 376.2Z" fill="#ffffcc"/>
<path d="M390.0 372.5L395.0 373.1L405.2 373.3L411.8 374.6L416.4 373.6L420.7 374.1L418.8 374.6L415.4 374.6L410.8 375.4L410.5 385.1L408.3 385.1L408.0 392.4L407.6 401.8L405.3 403.1L401.8 402.6L399.8 402.3L397.1 398.2L395.8 387.4L393.4 382.2L390.8 376.5Z" fill="#ffeda0"/>
<path d="M408.0 392.4L408.3 385.1L410.5 385.1L410.8 375.4L415.4 374.6L418.8 374.6L420.7 374.1L420.6 376.2L422.5 378.8L425.8 381.2L426.4 384.0L429.5 385.6L426.3 387.4L423.9 389.5L421.3 392.4L420.3 394.8L414.7 393.7L412.4 396.3L409.6 397.9L409.5 395.3Z" fill="#ffeda0"/>
<path d="M399.8 402.3L401.8 402.6L405.3 403.1L407.6 401.8L408.0 392.4L409.5 395.3L409.6 397.9L412.4 396.3L414.7 393.7L420.3 394.8L421.3 392.4L423.9 389.5L426.3 387.4L429.5 385.6L433.8 386.1L435.1 391.6L434.6 395.3L433.5 394.8L432.0 397.6L434.9 397.6L436.7 397.6L435.4 402.1L432.6 404.4L429.3 409.4L425.0 413.3L422.2 415.4L419.2 416.4L414.4 416.4L411.1 417.0L406.7 418.5L403.5 417.0L403.3 413.1L401.4 407.3Z" fill="#ffeda0"/>
<path d="M423.0 404.9L425.8 402.6L428.4 404.4L425.9 407.6L423.8 406.8Z" fill="#ffeda0"/>
<path d="M432.0 397.6L433.5 394.8L434.6 395.3L434.9 397.6L433.5 398.9Z" fill="#ffffcc"/>
<path d="M476.2 359.0L478.0 364.2L478.4 368.1L476.6 368.4L475.5 374.1L473.0 381.2L470.1 389.0L468.7 392.9L464.5 394.5L461.9 392.9L460.9 385.9L463.8 379.9L463.3 373.3L465.5 369.9L468.8 368.6L472.4 365.8L474.9 361.6Z" fill="#fed976"/>
<path d="M462.2 357.4L462.9 357.4L462.9 358.7L462.2 358.7ZM464.5 359.2L465.1 359.2L465.1 360.0Z" fill="#ffeda0"/>
<path d="M493.0 379.9L494.1 380.1L493.6 381.2L492.9 380.9Z" fill="#ffffcc"/>
<path d="M490.6 339.4L491.3 339.6L491.0 340.1Z" fill="#ffeda0"/>
<path d="M305.5 282.9L306.4 282.9L305.9 283.7ZM308.7 287.6L309.6 287.9L309.2 288.7ZM310.9 285.3L311.5 285.5L311.1 286.1ZM307.1 288.4L307.8 288.7L307.3 289.2Z" fill="#ffffcc"/>
<path d="M378.1 326.6L378.8 326.8L378.3 327.6Z" fill="#ffffcc"/>
<path d="M618.9 385.1L621.2 384.6L621.8 386.4L624.5 382.5L628.1 381.4L632.9 379.9L637.6 378.8L641.5 373.3L641.5 372.0L644.4 372.8L645.1 369.9L648.8 366.8L651.4 364.2L654.8 364.2L656.1 366.3L659.1 366.5L660.1 362.9L662.7 360.3L665.8 359.2L667.2 357.1L669.3 358.4L673.8 359.0L676.8 359.5L674.5 362.9L672.7 366.8L676.9 369.4L680.0 373.3L683.7 373.3L686.2 368.1L687.5 362.9L688.5 359.0L690.3 355.6L692.0 360.3L691.8 365.0L695.1 366.8L695.8 372.0L695.4 377.0L698.6 379.9L700.8 385.6L703.0 388.5L706.0 393.7L705.5 398.2L704.8 402.1L701.0 408.6L696.7 413.3L693.4 416.4L688.6 421.7L686.0 425.6L681.9 426.4L676.3 429.5L674.1 427.7L670.2 429.0L666.6 427.7L664.6 425.3L665.1 420.9L663.1 420.6L664.4 417.0L662.6 419.3L661.0 419.6L665.3 413.8L659.4 418.3L657.9 417.8L657.2 413.3L653.7 411.2L647.4 410.2L640.1 412.0L635.0 413.8L633.0 416.2L625.4 416.2L619.9 419.1L615.7 418.5L614.1 417.0L617.8 411.2L617.9 406.0L617.6 399.5L617.2 395.5L618.6 390.3ZM669.8 433.9L673.0 434.9L677.1 434.2L674.9 437.8L670.9 440.6L667.6 441.4L668.4 437.8ZM659.5 420.9L662.1 420.9L661.1 421.7ZM662.3 357.4L664.9 357.4L663.1 358.4ZM675.5 363.7L676.3 364.2L675.6 364.7Z" fill="#fed976"/>
<path d="M739.8 417.5L741.2 421.7L742.6 423.0L741.8 425.8L746.1 425.8L747.0 426.1L743.2 429.7L740.9 430.3L738.9 432.9L732.9 436.2L732.4 435.5L735.6 432.1L734.1 430.3L737.3 428.2L739.8 425.1L739.2 420.4ZM729.6 433.4L731.6 435.2L729.6 437.3L724.0 440.9L723.3 442.2L718.9 443.2L714.5 447.3L710.3 449.1L708.1 448.8L705.5 447.6L710.0 444.5L713.8 442.4L720.0 439.9L724.1 436.7ZM705.8 449.6L707.0 449.9L705.4 450.9Z" fill="#fed976"/>
<path d="M688.4 334.4L691.8 336.0L696.4 337.5L699.2 340.7L701.8 343.3L703.5 345.1L701.6 345.4L701.3 347.2L704.1 349.0L705.7 351.1L707.8 353.7L709.5 354.5L707.1 355.3L703.1 354.3L701.0 352.4L699.1 348.5L695.7 347.7L693.3 349.0L691.9 351.6L687.3 351.4ZM704.8 342.5L707.6 342.0L709.9 342.0L712.4 338.6L714.3 338.8L713.4 342.0L710.5 343.8L707.5 344.1L705.2 343.3ZM711.0 334.4L713.7 336.0L715.9 339.4L715.5 338.1L713.3 335.2ZM719.4 341.7L721.3 343.5L722.4 345.4L721.2 345.4L719.8 343.3ZM701.4 332.8L703.3 332.8L702.8 333.6ZM709.1 352.2L710.5 353.5L710.0 352.4Z" fill="#fd8d3c"/>
<path d="M723.5 345.1L725.7 346.7L724.6 346.4ZM728.0 347.2L730.7 349.6L729.4 349.3ZM729.8 351.9L732.6 353.2L730.8 353.2ZM732.8 349.3L733.9 352.4L733.2 352.2ZM733.7 354.3L735.8 355.6L734.4 355.6Z" fill="#fd8d3c"/>
<path d="M766.8 373.3L769.7 373.3L769.0 375.2L766.5 375.2ZM770.8 370.7L773.7 369.9L772.2 371.8Z" fill="#fed976"/>
</g>
</svg>
<div class="t lg" id="nd" style="left:158px;top:499px">No data</div>
<div class="t lg" style="left:224.1px;top:499px;transform:translateX(-50%)">0%</div>
<div class="t lg" style="left:282.7px;top:499px;transform:translateX(-50%)">5%</div>
<div class="t lg" style="left:341.3px;top:499px;transform:translateX(-50%)">10%</div>
<div class="t lg" style="left:399.9px;top:499px;transform:translateX(-50%)">15%</div>
<div class="t lg" style="left:458.5px;top:499px;transform:translateX(-50%)">20%</div>
<div class="t lg" style="left:517.1px;top:499px;transform:translateX(-50%)">25%</div>
<div class="t lg" style="left:575.7px;top:499px;transform:translateX(-50%)">30%</div>
<div class="t lg" style="left:634.3px;top:499px;transform:translateX(-50%)">35%</div>

<div class="t ft" id="f1" style="left:16px;top:550.7px;letter-spacing:0.07px"><b style="letter-spacing:-0.36px">Data source:</b> World Health Organization - Global Health Observatory (2024)</div>
<div class="t ft" id="f2" style="left:16px;top:570.7px"><b>Note:</b> To allow for comparisons between countries and over time, this metric is age-standardized.</div>
<div class="t ft" id="f3" style="right:18.3px;top:550.7px;font-size:12.9px">OurWorldinData.org/smoking | CC BY</div>
</body></html>
